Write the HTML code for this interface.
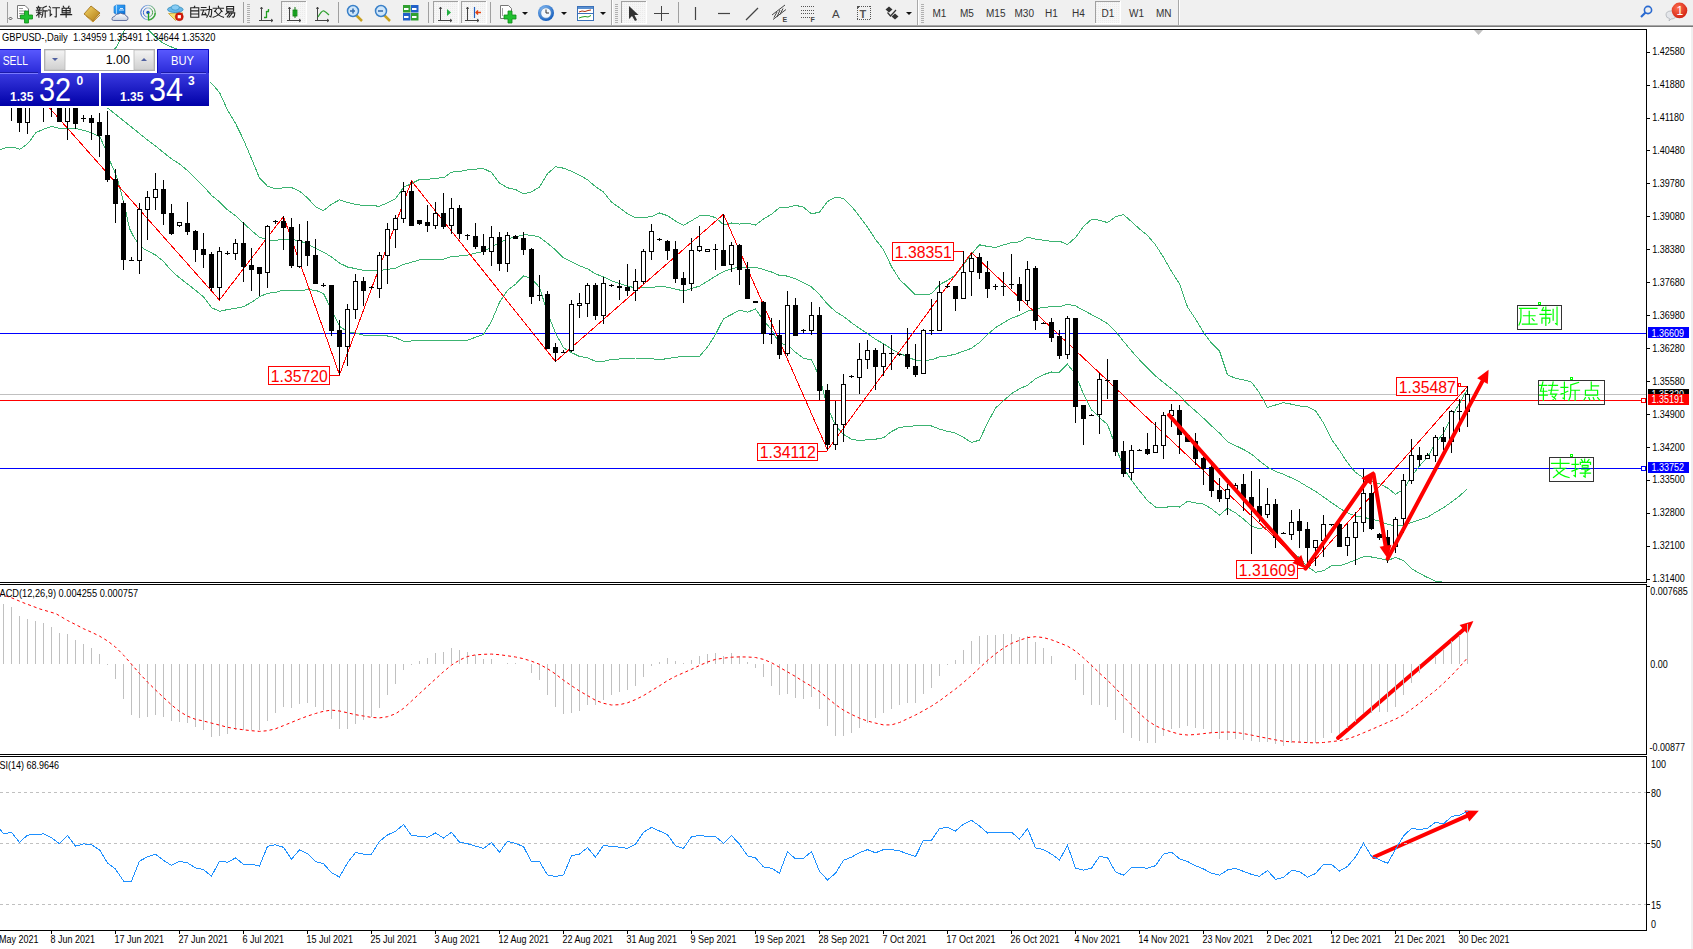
<!DOCTYPE html><html><head><meta charset="utf-8"><style>html,body{margin:0;padding:0;background:#fff;overflow:hidden}svg{display:block}</style></head><body>
<svg width="1693" height="949" viewBox="0 0 1693 949">
<defs><clipPath id="clipMain"><rect x="0" y="30" width="1646" height="552"/></clipPath><clipPath id="clipMacd"><rect x="0" y="585" width="1646" height="169"/></clipPath></defs>
<rect width="1693" height="949" fill="#fff"/>
<rect x="0" y="0" width="1693" height="25" fill="#f0f0f0"/>
<rect x="0" y="25" width="1693" height="1" fill="#a8a8a8"/>
<rect x="0" y="26" width="1693" height="1" fill="#787878"/>
<rect x="0" y="27" width="1693" height="2" fill="#fff"/>
<defs>
<linearGradient id="gGold" x1="0" y1="0" x2="1" y2="1"><stop offset="0" stop-color="#f5d66a"/><stop offset="1" stop-color="#b07a10"/></linearGradient>
<linearGradient id="gBlue" x1="0" y1="0" x2="0" y2="1"><stop offset="0" stop-color="#6ab0f5"/><stop offset="1" stop-color="#1060c0"/></linearGradient>
<radialGradient id="gClock" cx="0.4" cy="0.35" r="0.7"><stop offset="0" stop-color="#9fd0ff"/><stop offset="1" stop-color="#0a55b8"/></radialGradient>
<radialGradient id="gRed" cx="0.4" cy="0.35" r="0.7"><stop offset="0" stop-color="#ff7050"/><stop offset="1" stop-color="#d02010"/></radialGradient>
<pattern id="pDot" width="2" height="2" patternUnits="userSpaceOnUse"><rect width="2" height="2" fill="#f6f6f6"/><rect width="1" height="1" fill="#ebebeb"/></pattern>
</defs>
<g shape-rendering="crispEdges">
<rect x="7" y="2" width="1" height="21" fill="#a0a0a0"/>
<rect x="243" y="2" width="1" height="21" fill="#a0a0a0"/>
<rect x="338" y="2" width="1" height="21" fill="#a0a0a0"/>
<rect x="428" y="2" width="1" height="21" fill="#a0a0a0"/>
<rect x="490" y="2" width="1" height="21" fill="#a0a0a0"/>
<rect x="678" y="2" width="1" height="21" fill="#a0a0a0"/>
<rect x="611" y="0" width="1" height="25" fill="#a8a8a8"/><rect x="612" y="0" width="1" height="25" fill="#ffffff"/>
<rect x="917" y="0" width="1" height="25" fill="#a8a8a8"/><rect x="918" y="0" width="1" height="25" fill="#ffffff"/>
<rect x="1178" y="0" width="1" height="25" fill="#a8a8a8"/><rect x="1179" y="0" width="1" height="25" fill="#ffffff"/>
<rect x="247" y="4" width="3" height="1" fill="#b0b0b0"/>
<rect x="247" y="6" width="3" height="1" fill="#b0b0b0"/>
<rect x="247" y="8" width="3" height="1" fill="#b0b0b0"/>
<rect x="247" y="10" width="3" height="1" fill="#b0b0b0"/>
<rect x="247" y="12" width="3" height="1" fill="#b0b0b0"/>
<rect x="247" y="14" width="3" height="1" fill="#b0b0b0"/>
<rect x="247" y="16" width="3" height="1" fill="#b0b0b0"/>
<rect x="247" y="18" width="3" height="1" fill="#b0b0b0"/>
<rect x="247" y="20" width="3" height="1" fill="#b0b0b0"/>
<rect x="247" y="22" width="3" height="1" fill="#b0b0b0"/>
<rect x="615" y="4" width="3" height="1" fill="#b0b0b0"/>
<rect x="615" y="6" width="3" height="1" fill="#b0b0b0"/>
<rect x="615" y="8" width="3" height="1" fill="#b0b0b0"/>
<rect x="615" y="10" width="3" height="1" fill="#b0b0b0"/>
<rect x="615" y="12" width="3" height="1" fill="#b0b0b0"/>
<rect x="615" y="14" width="3" height="1" fill="#b0b0b0"/>
<rect x="615" y="16" width="3" height="1" fill="#b0b0b0"/>
<rect x="615" y="18" width="3" height="1" fill="#b0b0b0"/>
<rect x="615" y="20" width="3" height="1" fill="#b0b0b0"/>
<rect x="615" y="22" width="3" height="1" fill="#b0b0b0"/>
<rect x="921" y="4" width="3" height="1" fill="#b0b0b0"/>
<rect x="921" y="6" width="3" height="1" fill="#b0b0b0"/>
<rect x="921" y="8" width="3" height="1" fill="#b0b0b0"/>
<rect x="921" y="10" width="3" height="1" fill="#b0b0b0"/>
<rect x="921" y="12" width="3" height="1" fill="#b0b0b0"/>
<rect x="921" y="14" width="3" height="1" fill="#b0b0b0"/>
<rect x="921" y="16" width="3" height="1" fill="#b0b0b0"/>
<rect x="921" y="18" width="3" height="1" fill="#b0b0b0"/>
<rect x="921" y="20" width="3" height="1" fill="#b0b0b0"/>
<rect x="921" y="22" width="3" height="1" fill="#b0b0b0"/>
<rect x="281" y="1" width="25" height="22" fill="url(#pDot)"/>
<rect x="281" y="1" width="25" height="1" fill="#a0a0a0"/><rect x="281" y="1" width="1" height="22" fill="#a0a0a0"/>
<rect x="281" y="23" width="26" height="1" fill="#fff"/><rect x="306" y="1" width="1" height="23" fill="#fff"/>
<rect x="433" y="1" width="25" height="22" fill="url(#pDot)"/>
<rect x="433" y="1" width="25" height="1" fill="#a0a0a0"/><rect x="433" y="1" width="1" height="22" fill="#a0a0a0"/>
<rect x="433" y="23" width="26" height="1" fill="#fff"/><rect x="458" y="1" width="1" height="23" fill="#fff"/>
<rect x="461" y="1" width="25" height="22" fill="url(#pDot)"/>
<rect x="461" y="1" width="25" height="1" fill="#a0a0a0"/><rect x="461" y="1" width="1" height="22" fill="#a0a0a0"/>
<rect x="461" y="23" width="26" height="1" fill="#fff"/><rect x="486" y="1" width="1" height="23" fill="#fff"/>
<rect x="621" y="1" width="25" height="22" fill="url(#pDot)"/>
<rect x="621" y="1" width="25" height="1" fill="#a0a0a0"/><rect x="621" y="1" width="1" height="22" fill="#a0a0a0"/>
<rect x="621" y="23" width="26" height="1" fill="#fff"/><rect x="646" y="1" width="1" height="23" fill="#fff"/>
<rect x="1095" y="1" width="25" height="22" fill="url(#pDot)"/>
<rect x="1095" y="1" width="25" height="1" fill="#a0a0a0"/><rect x="1095" y="1" width="1" height="22" fill="#a0a0a0"/>
<rect x="1095" y="23" width="26" height="1" fill="#fff"/><rect x="1120" y="1" width="1" height="23" fill="#fff"/>
</g>
<path d="M10.5,17 L12,18.5 L10.5,20 L9,18.5Z" fill="none" stroke="#222" stroke-width="0.8"/>
<path d="M17.5,5.5 H25 L28.5,9 V18.5 H17.5Z" fill="#fff" stroke="#777" stroke-width="1"/>
<path d="M19,8.5H23 M19,11H26 M19,13.5H25 M19,16H22" stroke="#999" stroke-width="1"/>
<path d="M24.5,11 H28.5 V15 H32.5 V19 H28.5 V23 H24.5 V19 H20.5 V15 H24.5Z" fill="#20c030" stroke="#108a18" stroke-width="0.8"/>
<path transform="translate(36.00,6.00) scale(0.575)" d="M4,0.5L5,2 M1,3H9 M2.5,4L3.5,6.5 M7,4L6,6.5 M0.5,7.5H9.5 M1,11H9 M5,7.5V19.5 M5,12L1,17 M5,12L9,15 M18,0.5L12,3 M12,3V10Q12,16 10,19.5 M12,8.5H19.5 M16,8.5V19.5" fill="none" stroke="#222" stroke-width="1.91" stroke-linecap="square"/>
<path transform="translate(48.20,6.00) scale(0.575)" d="M2,1L4,3.5 M0.5,7H3.5V17L6,14.5 M8,3H19.5 M14,3V18.5Q14,19.5 12,18.5" fill="none" stroke="#222" stroke-width="1.91" stroke-linecap="square"/>
<path transform="translate(60.40,6.00) scale(0.575)" d="M5,0.5L6.5,3 M15,0.5L13.5,3 M3,4H17V12H3Z M3,8H17 M10,4V19.5 M0.5,15H19.5" fill="none" stroke="#222" stroke-width="1.91" stroke-linecap="square"/>
<path d="M84,14 L91,6 L100,13 L93,21Z" fill="url(#gGold)" stroke="#9a6a10" stroke-width="0.8"/>
<path d="M86,16 L93,22 L100,15" fill="none" stroke="#c89530" stroke-width="1"/>
<defs><linearGradient id="gCube" x1="0" y1="0" x2="1" y2="1"><stop offset="0" stop-color="#40b0ff"/><stop offset="1" stop-color="#0a70d8"/></linearGradient><linearGradient id="gCloud" x1="0" y1="0" x2="0" y2="1"><stop offset="0" stop-color="#ffffff"/><stop offset="1" stop-color="#c8d0e0"/></linearGradient><linearGradient id="gRing" x1="0" y1="0" x2="1" y2="0"><stop offset="0" stop-color="#2a60d0"/><stop offset="0.5" stop-color="#a0c0e0"/><stop offset="1" stop-color="#40a040"/></linearGradient></defs>
<path d="M114,6.5 L116.5,5 H125 V14 H116 L114,13Z" fill="url(#gCube)" stroke="#1a70c8" stroke-width="0.6"/>
<path d="M116.5,5 V14" stroke="#c0e4ff" stroke-width="0.8"/><path d="M119,10 H124 M120,8.5 H123" stroke="#e8f4ff" stroke-width="0.9"/>
<path d="M113.5,20.5 Q111.5,20.5 112,18.5 Q112.5,16.5 114.5,16.5 Q115.5,13.5 118.5,14 Q120.5,12.3 123,14 Q125.5,13.5 126,16 Q128.5,16.3 128,19 Q127.5,20.5 126,20.5Z" fill="url(#gCloud)" stroke="#4a5a90" stroke-width="0.8"/>
<circle cx="148" cy="12.5" r="7.2" fill="none" stroke="url(#gRing)" stroke-width="1"/>
<circle cx="148" cy="12.5" r="4.6" fill="none" stroke="url(#gRing)" stroke-width="1"/>
<circle cx="148" cy="12.5" r="1.7" fill="#1a50c0"/>
<path d="M148.5,13 V20.5" stroke="#20a020" stroke-width="1.3"/><path d="M148.5,20 A7.3,7.3 0 0 0 155.3,13" fill="none" stroke="#40a840" stroke-width="1.4"/>
<path d="M168.5,13.5 L175.5,20.5 L183,13Z" fill="#f4e070" stroke="#c8a030" stroke-width="0.8"/>
<ellipse cx="175.3" cy="9.5" rx="7.8" ry="3" fill="#6ab8e8" stroke="#2a88b8" stroke-width="0.8"/>
<ellipse cx="175.3" cy="7.5" rx="4" ry="2.7" fill="#88ccf4" stroke="#2a88b8" stroke-width="0.6"/>
<circle cx="179.3" cy="16.7" r="4" fill="#d81808" stroke="#a01000" stroke-width="0.5"/><rect x="177.7" y="15.1" width="3.2" height="3.2" fill="#fff"/>
<path transform="translate(189.00,6.00) scale(0.575)" d="M10,0.5L8.5,3 M3,3H17V19.5H3Z M3,8.5H17 M3,14H17" fill="none" stroke="#222" stroke-width="1.91" stroke-linecap="square"/>
<path transform="translate(200.80,6.00) scale(0.575)" d="M1,2.5H9 M0,7H10 M5,7L2,15.5L9,14.5 M7.5,12L9.5,16 M11,6H19Q19,14 17.5,19L15.5,18 M15,0.5V6Q14.5,15 10.5,19.5" fill="none" stroke="#222" stroke-width="1.91" stroke-linecap="square"/>
<path transform="translate(212.60,6.00) scale(0.575)" d="M10,0.5L11,3 M1,4H19 M6.5,6L3.5,9.5 M13.5,6L16.5,9.5 M5,9.5Q10,17 19,19.5 M15,9.5Q10,17 1,19.5" fill="none" stroke="#222" stroke-width="1.91" stroke-linecap="square"/>
<path transform="translate(224.40,6.00) scale(0.575)" d="M4,1H16V9H4Z M4,5H16 M6.5,10L2,14.5 M5,12H18Q18,17 16,19.5L14,19 M10,12L5,19 M14,12L8,19.5" fill="none" stroke="#222" stroke-width="1.91" stroke-linecap="square"/>
<path d="M261.5,7 V21 M259,20.5 H273 M261.5,7 L260.5,9 M261.5,7 L262.5,9 M273,20.5 L271,19 M273,20.5 L271,22" fill="none" stroke="#444" stroke-width="1"/>
<path d="M266.5,11 V18 M264,17.5 H266.5 M266.5,11.5 H269 M268.5,9 V11.5" fill="none" stroke="#20a020" stroke-width="1.3"/>
<path d="M289.5,7 V21 M287,20.5 H301 M289.5,7 L288.5,9 M289.5,7 L290.5,9 M301,20.5 L299,19 M301,20.5 L299,22" fill="none" stroke="#444" stroke-width="1"/>
<rect x="293" y="10" width="4" height="6" fill="#20c030" stroke="#107a10" stroke-width="0.8"/><path d="M295,7 V18" stroke="#107a10" stroke-width="1"/>
<path d="M317.5,7 V21 M315,20.5 H329 M317.5,7 L316.5,9 M317.5,7 L318.5,9 M329,20.5 L327,19 M329,20.5 L327,22" fill="none" stroke="#444" stroke-width="1"/>
<path d="M318,17 Q322,10 324,11 Q326,12 329,15" fill="none" stroke="#30a030" stroke-width="1.2"/>
<line x1="356" y1="15" x2="362" y2="21" stroke="#c8a020" stroke-width="2.5"/>
<circle cx="353" cy="11" r="5.5" fill="#cfe6fa" stroke="#3a80c8" stroke-width="1.5"/>
<path d="M350,11 H355" stroke="#3a70b0" stroke-width="1.6"/>
<path d="M353,8.5 V13.5" stroke="#3a70b0" stroke-width="1.6"/>
<line x1="384" y1="15" x2="390" y2="21" stroke="#c8a020" stroke-width="2.5"/>
<circle cx="381" cy="11" r="5.5" fill="#cfe6fa" stroke="#3a80c8" stroke-width="1.5"/>
<path d="M378,11 H383" stroke="#3a70b0" stroke-width="1.6"/>
<rect x="403" y="5" width="7.5" height="7.5" fill="#30a030"/>
<rect x="404" y="8" width="4.5" height="2" fill="#fff"/>
<rect x="411" y="5" width="7.5" height="7.5" fill="#2060c8"/>
<rect x="412" y="8" width="4.5" height="2" fill="#fff"/>
<rect x="403" y="13" width="7.5" height="7.5" fill="#2060c8"/>
<rect x="404" y="16" width="4.5" height="2" fill="#fff"/>
<rect x="411" y="13" width="7.5" height="7.5" fill="#30a030"/>
<rect x="412" y="16" width="4.5" height="2" fill="#fff"/>
<path d="M440.5,7 V21 M438,20.5 H452 M440.5,7 L439.5,9 M440.5,7 L441.5,9 M452,20.5 L450,19 M452,20.5 L450,22" fill="none" stroke="#444" stroke-width="1"/>
<path d="M447,9 L451,12.5 L447,16Z" fill="#20b040"/>
<path d="M467.5,7 V21 M465,20.5 H479 M467.5,7 L466.5,9 M467.5,7 L468.5,9 M479,20.5 L477,19 M479,20.5 L477,22" fill="none" stroke="#444" stroke-width="1"/>
<path d="M474.5,7 V18" stroke="#2060c0" stroke-width="1.2"/><path d="M481,12.5 H476 M478,10.5 L476,12.5 L478,14.5" fill="none" stroke="#e04010" stroke-width="1.3"/>
<path d="M500.5,5.5 H508.5 L511.5,8.5 V18.5 H500.5Z" fill="#fff" stroke="#777" stroke-width="1"/>
<path d="M502.5,8 V16" stroke="#888" stroke-width="0.8"/>
<path d="M508,11 H512 V15 H516 V19 H512 V23 H508 V19 H504 V15 H508Z" fill="#20c030" stroke="#108a18" stroke-width="0.8"/>
<path d="M522,12 H528 L525,15Z" fill="#111"/>
<path d="M561,12 H567 L564,15Z" fill="#111"/>
<path d="M600,12 H606 L603,15Z" fill="#111"/>
<circle cx="546" cy="13" r="8" fill="url(#gClock)"/><circle cx="546" cy="13" r="5.2" fill="#f4f8fc" stroke="#3a70b0" stroke-width="0.5"/><path d="M546,9.5 V13 H549" fill="none" stroke="#333" stroke-width="1"/>
<rect x="577.5" y="6.5" width="16" height="14" fill="#fff" stroke="#3a70b8" stroke-width="1"/><rect x="578" y="7" width="15" height="2" fill="#5a90d0"/><path d="M578,13.5 H593" stroke="#3a70b8" stroke-width="1"/>
<path d="M579,12 L582,11 L585,11.5 L588,10.5 L591,10" fill="none" stroke="#b03010" stroke-width="1"/><path d="M579,18 L582,17 L585,16.5 L588,17 L591,15.5" fill="none" stroke="#20a020" stroke-width="1"/>
<path d="M629,6 L629,19 L632,16 L635,21 L637,20 L634.5,15 L638.5,15Z" fill="#333"/>
<path d="M661.5,6 V21 M654,13.5 H669" stroke="#444" stroke-width="1"/>
<path d="M695.5,7 V20" stroke="#444" stroke-width="1.2"/>
<path d="M718,13.5 H730" stroke="#444" stroke-width="1.2"/>
<path d="M746,20 L758,8" stroke="#444" stroke-width="1.2"/>
<path d="M772,15 L785,5 M773,19.5 L786,9.5 M774,17.5 L777,12 M777,17 L780,10 M780,14.5 L783,8.5" stroke="#444" stroke-width="1"/><text x="782.5" y="22" font-family='"Liberation Sans", sans-serif' font-size="7" font-weight="bold" fill="#444">E</text>
<g shape-rendering="crispEdges" fill="#555">
<rect x="801" y="6" width="1" height="1"/>
<rect x="803" y="6" width="1" height="1"/>
<rect x="805" y="6" width="1" height="1"/>
<rect x="807" y="6" width="1" height="1"/>
<rect x="809" y="6" width="1" height="1"/>
<rect x="811" y="6" width="1" height="1"/>
<rect x="813" y="6" width="1" height="1"/>
<rect x="801" y="10" width="1" height="1"/>
<rect x="803" y="10" width="1" height="1"/>
<rect x="805" y="10" width="1" height="1"/>
<rect x="807" y="10" width="1" height="1"/>
<rect x="809" y="10" width="1" height="1"/>
<rect x="811" y="10" width="1" height="1"/>
<rect x="813" y="10" width="1" height="1"/>
<rect x="801" y="13" width="1" height="1"/>
<rect x="803" y="13" width="1" height="1"/>
<rect x="805" y="13" width="1" height="1"/>
<rect x="807" y="13" width="1" height="1"/>
<rect x="809" y="13" width="1" height="1"/>
<rect x="811" y="13" width="1" height="1"/>
<rect x="813" y="13" width="1" height="1"/>
<rect x="801" y="17" width="1" height="1"/>
<rect x="803" y="17" width="1" height="1"/>
<rect x="805" y="17" width="1" height="1"/>
<rect x="807" y="17" width="1" height="1"/>
<rect x="809" y="17" width="1" height="1"/>
</g>
<text x="810.5" y="22" font-family='"Liberation Sans", sans-serif' font-size="7" font-weight="bold" fill="#444">F</text>
<text x="832" y="17.8" font-family='"Liberation Sans", sans-serif' font-size="11.5" fill="#444">A</text>
<g shape-rendering="crispEdges" fill="#555">
<rect x="857" y="6" width="1" height="1"/><rect x="857" y="19" width="1" height="1"/>
<rect x="859" y="6" width="1" height="1"/><rect x="859" y="19" width="1" height="1"/>
<rect x="861" y="6" width="1" height="1"/><rect x="861" y="19" width="1" height="1"/>
<rect x="863" y="6" width="1" height="1"/><rect x="863" y="19" width="1" height="1"/>
<rect x="865" y="6" width="1" height="1"/><rect x="865" y="19" width="1" height="1"/>
<rect x="867" y="6" width="1" height="1"/><rect x="867" y="19" width="1" height="1"/>
<rect x="869" y="6" width="1" height="1"/><rect x="869" y="19" width="1" height="1"/>
<rect x="857" y="6" width="1" height="1"/><rect x="870" y="6" width="1" height="1"/>
<rect x="857" y="8" width="1" height="1"/><rect x="870" y="8" width="1" height="1"/>
<rect x="857" y="10" width="1" height="1"/><rect x="870" y="10" width="1" height="1"/>
<rect x="857" y="12" width="1" height="1"/><rect x="870" y="12" width="1" height="1"/>
<rect x="857" y="14" width="1" height="1"/><rect x="870" y="14" width="1" height="1"/>
<rect x="857" y="16" width="1" height="1"/><rect x="870" y="16" width="1" height="1"/>
<rect x="857" y="18" width="1" height="1"/><rect x="870" y="18" width="1" height="1"/>
<rect x="857" y="6" width="2" height="2"/>
</g>
<text x="859.5" y="17.5" font-family='"Liberation Sans", sans-serif' font-size="11" font-weight="bold" fill="#555">T</text>
<path d="M885.5,9.5 L889,6.5 L892.5,9.5 L889,12.5Z M891.5,16.5 L895,13.5 L898.5,16.5 L895,19.5Z" fill="#333"/><path d="M887.5,12.5 L890.5,16 L896,10" fill="none" stroke="#333" stroke-width="1.2"/>
<path d="M906,12 H912 L909,15Z" fill="#111"/>
<g font-family='"Liberation Sans", sans-serif' font-size="10" fill="#333">
<text x="932.5" y="17.3">M1</text>
<text x="960.0" y="17.3">M5</text>
<text x="986.0" y="17.3">M15</text>
<text x="1014.5" y="17.3">M30</text>
<text x="1045.0" y="17.3">H1</text>
<text x="1072.0" y="17.3">H4</text>
<text x="1101.5" y="17.3">D1</text>
<text x="1129.0" y="17.3">W1</text>
<text x="1156.0" y="17.3">MN</text>
</g>
<circle cx="1648" cy="10" r="3.6" fill="none" stroke="#2a6ad0" stroke-width="1.6"/><path d="M1645.5,12.5 L1641,17" stroke="#2a6ad0" stroke-width="2.2"/>
<path d="M1666,15 Q1666,11 1671,11 Q1676,11 1676,15 Q1676,19 1671,19 L1669,21 L1669.5,18.5 Q1666,18 1666,15Z" fill="#e4e6ea" stroke="#b0b4ba" stroke-width="0.8"/>
<circle cx="1679.5" cy="10.4" r="7.8" fill="url(#gRed)"/><text x="1676.5" y="15" font-family='"Liberation Sans", sans-serif' font-size="12" fill="#fff">1</text>
<g clip-path="url(#clipMain)">
<rect x="0" y="394" width="1646" height="1" fill="#c0c0c0"/>
<rect x="0" y="400" width="1646" height="1" fill="#ff0000"/>
<rect x="0" y="333" width="1646" height="1" fill="#0000ff"/>
<rect x="0" y="468" width="1646" height="1" fill="#0000ff"/>
<polyline fill="none" stroke="#3cb371" stroke-width="1" shape-rendering="crispEdges" points="100.5,65.0 116.5,47.0 124.5,30.0 136.5,18.0 148.5,30.0 155.5,37.1 163.5,43.5 171.5,47.0 179.5,50.0 187.5,56.9 195.5,67.3 203.5,75.7 211.5,83.2 219.5,92.5 227.5,110.0 235.5,123.3 243.5,139.7 251.5,158.6 259.5,178.0 267.5,186.2 275.5,189.0 283.5,187.8 291.5,187.6 299.5,191.1 307.5,197.9 315.5,206.7 323.5,210.6 331.5,204.2 339.5,199.9 347.5,202.5 355.5,204.3 363.5,205.7 371.5,205.7 379.5,206.2 387.5,202.8 395.5,198.8 403.5,187.4 411.5,183.5 419.5,179.5 427.5,179.4 435.5,178.1 443.5,177.9 451.5,172.1 459.5,171.4 467.5,170.0 475.5,169.1 483.5,168.7 491.5,172.3 499.5,183.1 507.5,187.8 515.5,189.5 523.5,193.8 531.5,191.8 539.5,187.1 547.5,173.7 555.5,166.7 563.5,168.2 571.5,171.2 579.5,175.2 587.5,179.8 595.5,186.6 603.5,192.1 611.5,202.1 619.5,207.8 627.5,213.7 635.5,217.7 643.5,217.7 651.5,216.5 659.5,213.0 667.5,215.7 675.5,221.1 683.5,225.3 691.5,220.7 699.5,215.9 707.5,215.3 715.5,217.6 723.5,224.7 731.5,223.0 739.5,224.1 747.5,223.3 755.5,225.1 763.5,218.9 771.5,214.3 779.5,207.5 787.5,207.3 795.5,205.3 803.5,207.2 811.5,213.9 819.5,212.1 827.5,201.5 835.5,197.1 843.5,198.5 851.5,206.2 859.5,216.3 867.5,227.1 875.5,239.4 883.5,249.6 891.5,266.6 899.5,279.3 907.5,287.1 915.5,294.9 923.5,294.4 931.5,293.9 939.5,284.6 947.5,280.5 955.5,275.0 963.5,265.0 971.5,254.1 979.5,244.8 987.5,246.4 995.5,247.4 1003.5,244.9 1011.5,242.7 1019.5,241.9 1027.5,237.1 1035.5,239.1 1043.5,240.2 1051.5,241.3 1059.5,241.2 1067.5,244.5 1075.5,237.5 1083.5,226.5 1091.5,219.3 1099.5,220.2 1107.5,222.6 1115.5,216.8 1123.5,214.5 1131.5,221.7 1139.5,228.9 1147.5,235.4 1155.5,244.9 1163.5,257.2 1171.5,271.4 1179.5,283.8 1187.5,306.9 1195.5,319.0 1203.5,332.4 1211.5,343.0 1219.5,351.0 1227.5,374.9 1235.5,378.3 1243.5,379.8 1251.5,382.1 1259.5,392.9 1267.5,407.6 1275.5,405.0 1283.5,402.7 1291.5,404.2 1299.5,406.0 1307.5,406.8 1315.5,410.6 1323.5,423.0 1331.5,439.3 1339.5,450.5 1347.5,462.7 1355.5,472.4 1363.5,477.9 1371.5,481.5 1379.5,483.8 1387.5,488.0 1395.5,494.2 1403.5,489.6 1411.5,476.3 1419.5,466.0 1427.5,457.0 1435.5,443.4 1443.5,433.1 1451.5,416.9 1459.5,403.4 1467.5,389.0"/>
<polyline fill="none" stroke="#3cb371" stroke-width="1" shape-rendering="crispEdges" points="0.5,95.0 50.5,90.0 80.5,95.0 102.5,104.0 107.9,108.2 129.4,125.4 147.5,140.0 155.5,146.0 163.5,152.5 171.5,158.9 179.5,163.9 187.5,170.5 195.5,178.7 203.5,186.2 211.5,195.4 219.5,201.9 227.5,209.8 235.5,215.8 243.5,223.2 251.5,230.5 259.5,237.4 267.5,239.7 275.5,240.6 283.5,239.0 291.5,239.3 299.5,240.9 307.5,243.8 315.5,248.5 323.5,252.1 331.5,256.9 339.5,263.1 347.5,267.0 355.5,268.6 363.5,270.4 371.5,270.4 379.5,270.6 387.5,269.4 395.5,268.2 403.5,264.4 411.5,262.3 419.5,259.8 427.5,259.7 435.5,259.3 443.5,259.3 451.5,256.4 459.5,256.0 467.5,255.1 475.5,253.2 483.5,251.5 491.5,246.9 499.5,242.7 507.5,239.0 515.5,236.9 523.5,234.8 531.5,235.2 539.5,237.2 547.5,243.2 555.5,249.9 563.5,257.9 571.5,261.9 579.5,265.8 587.5,268.8 595.5,273.9 603.5,276.8 611.5,280.7 619.5,283.4 627.5,286.1 635.5,287.9 643.5,287.9 651.5,287.6 659.5,286.4 667.5,287.2 675.5,289.1 683.5,290.9 691.5,288.6 699.5,286.1 707.5,281.2 715.5,276.1 723.5,271.7 731.5,268.8 739.5,267.1 747.5,267.7 755.5,267.1 763.5,269.6 771.5,272.0 779.5,275.4 787.5,276.1 795.5,278.8 803.5,282.8 811.5,286.9 819.5,294.5 827.5,304.2 835.5,311.5 843.5,316.4 851.5,322.7 859.5,328.4 867.5,333.5 875.5,339.3 883.5,343.7 891.5,349.1 899.5,353.3 907.5,356.8 915.5,360.3 923.5,360.2 931.5,359.9 939.5,356.9 947.5,355.9 955.5,354.1 963.5,351.2 971.5,348.3 979.5,342.4 987.5,334.6 995.5,327.7 1003.5,322.8 1011.5,318.2 1019.5,315.3 1027.5,311.2 1035.5,309.0 1043.5,307.4 1051.5,306.7 1059.5,306.7 1067.5,304.3 1075.5,305.9 1083.5,310.3 1091.5,314.6 1099.5,318.9 1107.5,323.6 1115.5,331.2 1123.5,341.3 1131.5,350.9 1139.5,359.8 1147.5,368.0 1155.5,376.0 1163.5,382.5 1171.5,388.8 1179.5,395.4 1187.5,404.1 1195.5,411.0 1203.5,418.2 1211.5,425.9 1219.5,433.1 1227.5,441.6 1235.5,445.6 1243.5,449.5 1251.5,454.1 1259.5,460.9 1267.5,467.1 1275.5,471.3 1283.5,474.3 1291.5,477.9 1299.5,481.9 1307.5,486.7 1315.5,491.4 1323.5,496.9 1331.5,502.6 1339.5,508.2 1347.5,512.9 1355.5,516.1 1363.5,517.3 1371.5,519.2 1379.5,521.2 1387.5,524.2 1395.5,525.9 1403.5,525.0 1411.5,522.4 1419.5,519.7 1427.5,517.2 1435.5,512.3 1443.5,507.7 1451.5,502.1 1459.5,496.1 1467.5,488.5"/>
<polyline fill="none" stroke="#3cb371" stroke-width="1" shape-rendering="crispEdges" points="0.5,149.5 7.5,147.3 14.1,147.3 19.4,149.3 22.9,147.3 28.9,142.5 35.9,132.5 43.0,129.5 51.9,126.3 59.0,128.4 76.1,128.4 89.1,131.9 95.5,134.6 99.9,136.8 105.1,148.6 110.3,161.9 116.2,175.2 121.3,193.0 125.0,207.7 129.5,228.4 133.9,237.2 138.3,243.2 144.2,249.1 155.5,255.0 163.5,261.4 171.5,270.8 179.5,277.8 187.5,284.0 195.5,290.2 203.5,296.8 211.5,307.6 219.5,311.3 227.5,309.6 235.5,308.3 243.5,306.7 251.5,302.3 259.5,296.8 267.5,293.3 275.5,292.3 283.5,290.2 291.5,291.0 299.5,290.7 307.5,289.7 315.5,290.2 323.5,293.5 331.5,309.7 339.5,326.4 347.5,331.6 355.5,332.9 363.5,335.1 371.5,335.1 379.5,335.1 387.5,336.0 395.5,337.5 403.5,341.4 411.5,341.0 419.5,340.1 427.5,340.1 435.5,340.6 443.5,340.6 451.5,340.7 459.5,340.6 467.5,340.1 475.5,337.3 483.5,334.3 491.5,321.4 499.5,302.3 507.5,290.2 515.5,284.3 523.5,275.8 531.5,278.6 539.5,287.4 547.5,312.7 555.5,333.1 563.5,347.7 571.5,352.6 579.5,356.5 587.5,357.8 595.5,361.3 603.5,361.5 611.5,359.3 619.5,359.0 627.5,358.5 635.5,358.0 643.5,358.0 651.5,358.6 659.5,359.7 667.5,358.6 675.5,357.2 683.5,356.6 691.5,356.5 699.5,356.4 707.5,347.1 715.5,334.5 723.5,318.7 731.5,314.5 739.5,310.1 747.5,312.2 755.5,309.0 763.5,320.3 771.5,329.8 779.5,343.3 787.5,345.0 795.5,352.3 803.5,358.3 811.5,359.9 819.5,376.9 827.5,406.8 835.5,425.8 843.5,434.3 851.5,439.3 859.5,440.5 867.5,439.8 875.5,439.2 883.5,437.7 891.5,431.6 899.5,427.4 907.5,426.4 915.5,425.8 923.5,425.9 931.5,426.0 939.5,429.1 947.5,431.3 955.5,433.1 963.5,437.4 971.5,442.5 979.5,440.1 987.5,422.9 995.5,408.1 1003.5,400.7 1011.5,393.7 1019.5,388.7 1027.5,385.3 1035.5,378.8 1043.5,374.7 1051.5,372.0 1059.5,372.2 1067.5,364.1 1075.5,374.4 1083.5,394.2 1091.5,409.8 1099.5,417.6 1107.5,424.5 1115.5,445.7 1123.5,468.1 1131.5,480.2 1139.5,490.7 1147.5,500.6 1155.5,507.1 1163.5,507.8 1171.5,506.2 1179.5,507.1 1187.5,501.2 1195.5,502.9 1203.5,504.1 1211.5,508.8 1219.5,515.1 1227.5,508.3 1235.5,512.8 1243.5,519.1 1251.5,526.1 1259.5,528.8 1267.5,526.5 1275.5,537.6 1283.5,545.9 1291.5,551.5 1299.5,557.9 1307.5,566.5 1315.5,572.2 1323.5,570.8 1331.5,565.8 1339.5,565.8 1347.5,563.2 1355.5,559.8 1363.5,556.8 1371.5,557.0 1379.5,558.5 1387.5,560.4 1395.5,557.6 1403.5,560.4 1411.5,568.6 1419.5,573.4 1427.5,577.5 1435.5,581.1 1443.5,582.3 1451.5,587.3 1459.5,588.9 1467.5,588.0"/>
<polyline fill="none" stroke="#ff0000" stroke-width="1" shape-rendering="crispEdges" points="-19.5,30.0 219.5,300.0 283.5,216.5 339.5,374.7 411.5,181.0 555.5,361.5 723.5,214.3 827.5,450.0 971.5,252.8 1307.5,568.3 1467.5,386.4"/>
<g shape-rendering="crispEdges">
<rect x="3" y="80" width="1" height="24" fill="#000"/>
<rect x="1" y="85" width="5" height="16" fill="#000"/>
<rect x="2" y="86" width="3" height="14" fill="#fff"/>
<rect x="11" y="88" width="1" height="33" fill="#000"/>
<rect x="9" y="90" width="5" height="15" fill="#000"/>
<rect x="19" y="90" width="1" height="42" fill="#000"/>
<rect x="17" y="95" width="5" height="28" fill="#000"/>
<rect x="27" y="95" width="1" height="39" fill="#000"/>
<rect x="25" y="100" width="5" height="23" fill="#000"/>
<rect x="26" y="101" width="3" height="21" fill="#fff"/>
<rect x="35" y="80" width="1" height="24" fill="#000"/>
<rect x="33" y="85" width="5" height="16" fill="#000"/>
<rect x="34" y="86" width="3" height="14" fill="#fff"/>
<rect x="43" y="88" width="1" height="34" fill="#000"/>
<rect x="41" y="90" width="5" height="15" fill="#000"/>
<rect x="51" y="90" width="1" height="27" fill="#000"/>
<rect x="49" y="95" width="5" height="10" fill="#000"/>
<rect x="59" y="90" width="1" height="32" fill="#000"/>
<rect x="57" y="95" width="5" height="27" fill="#000"/>
<rect x="67" y="90" width="1" height="50" fill="#000"/>
<rect x="65" y="95" width="5" height="27" fill="#000"/>
<rect x="66" y="96" width="3" height="25" fill="#fff"/>
<rect x="75" y="90" width="1" height="39" fill="#000"/>
<rect x="73" y="95" width="5" height="29" fill="#000"/>
<rect x="83" y="115" width="1" height="7" fill="#000"/>
<rect x="81" y="118" width="5" height="1" fill="#000"/>
<rect x="91" y="115" width="1" height="25" fill="#000"/>
<rect x="89" y="118" width="5" height="5" fill="#000"/>
<rect x="99" y="113" width="1" height="44" fill="#000"/>
<rect x="97" y="122" width="5" height="14" fill="#000"/>
<rect x="107" y="111" width="1" height="71" fill="#000"/>
<rect x="105" y="135" width="5" height="45" fill="#000"/>
<rect x="115" y="169" width="1" height="54" fill="#000"/>
<rect x="113" y="179" width="5" height="25" fill="#000"/>
<rect x="123" y="201" width="1" height="69" fill="#000"/>
<rect x="121" y="203" width="5" height="57" fill="#000"/>
<rect x="131" y="257" width="1" height="4" fill="#000"/>
<rect x="129" y="260" width="5" height="1" fill="#000"/>
<rect x="139" y="203" width="1" height="71" fill="#000"/>
<rect x="137" y="209" width="5" height="52" fill="#000"/>
<rect x="138" y="210" width="3" height="50" fill="#fff"/>
<rect x="147" y="191" width="1" height="49" fill="#000"/>
<rect x="145" y="197" width="5" height="13" fill="#000"/>
<rect x="146" y="198" width="3" height="11" fill="#fff"/>
<rect x="155" y="173" width="1" height="37" fill="#000"/>
<rect x="153" y="189" width="5" height="9" fill="#000"/>
<rect x="154" y="190" width="3" height="7" fill="#fff"/>
<rect x="163" y="180" width="1" height="45" fill="#000"/>
<rect x="161" y="189" width="5" height="25" fill="#000"/>
<rect x="171" y="204" width="1" height="31" fill="#000"/>
<rect x="169" y="213" width="5" height="21" fill="#000"/>
<rect x="179" y="222" width="1" height="5" fill="#000"/>
<rect x="177" y="222" width="5" height="4" fill="#000"/>
<rect x="178" y="223" width="3" height="2" fill="#fff"/>
<rect x="187" y="202" width="1" height="33" fill="#000"/>
<rect x="185" y="223" width="5" height="9" fill="#000"/>
<rect x="195" y="230" width="1" height="32" fill="#000"/>
<rect x="193" y="231" width="5" height="19" fill="#000"/>
<rect x="203" y="233" width="1" height="35" fill="#000"/>
<rect x="201" y="249" width="5" height="6" fill="#000"/>
<rect x="211" y="252" width="1" height="39" fill="#000"/>
<rect x="209" y="254" width="5" height="34" fill="#000"/>
<rect x="219" y="247" width="1" height="53" fill="#000"/>
<rect x="217" y="251" width="5" height="37" fill="#000"/>
<rect x="218" y="252" width="3" height="35" fill="#fff"/>
<rect x="227" y="251" width="1" height="4" fill="#000"/>
<rect x="225" y="253" width="5" height="1" fill="#000"/>
<rect x="235" y="239" width="1" height="21" fill="#000"/>
<rect x="233" y="243" width="5" height="11" fill="#000"/>
<rect x="234" y="244" width="3" height="9" fill="#fff"/>
<rect x="243" y="222" width="1" height="60" fill="#000"/>
<rect x="241" y="243" width="5" height="24" fill="#000"/>
<rect x="251" y="248" width="1" height="43" fill="#000"/>
<rect x="249" y="265" width="5" height="5" fill="#000"/>
<rect x="259" y="267" width="1" height="29" fill="#000"/>
<rect x="257" y="267" width="5" height="7" fill="#000"/>
<rect x="267" y="225" width="1" height="63" fill="#000"/>
<rect x="265" y="226" width="5" height="47" fill="#000"/>
<rect x="266" y="227" width="3" height="45" fill="#fff"/>
<rect x="275" y="220" width="1" height="4" fill="#000"/>
<rect x="273" y="221" width="5" height="1" fill="#000"/>
<rect x="283" y="216" width="1" height="34" fill="#000"/>
<rect x="281" y="221" width="5" height="7" fill="#000"/>
<rect x="291" y="218" width="1" height="50" fill="#000"/>
<rect x="289" y="227" width="5" height="39" fill="#000"/>
<rect x="299" y="224" width="1" height="44" fill="#000"/>
<rect x="297" y="240" width="5" height="27" fill="#000"/>
<rect x="298" y="241" width="3" height="25" fill="#fff"/>
<rect x="307" y="221" width="1" height="45" fill="#000"/>
<rect x="305" y="241" width="5" height="15" fill="#000"/>
<rect x="315" y="239" width="1" height="45" fill="#000"/>
<rect x="313" y="255" width="5" height="29" fill="#000"/>
<rect x="323" y="283" width="1" height="4" fill="#000"/>
<rect x="321" y="285" width="5" height="1" fill="#000"/>
<rect x="331" y="285" width="1" height="51" fill="#000"/>
<rect x="329" y="285" width="5" height="46" fill="#000"/>
<rect x="339" y="320" width="1" height="55" fill="#000"/>
<rect x="337" y="330" width="5" height="17" fill="#000"/>
<rect x="347" y="304" width="1" height="62" fill="#000"/>
<rect x="345" y="309" width="5" height="38" fill="#000"/>
<rect x="346" y="310" width="3" height="36" fill="#fff"/>
<rect x="355" y="274" width="1" height="45" fill="#000"/>
<rect x="353" y="281" width="5" height="29" fill="#000"/>
<rect x="354" y="282" width="3" height="27" fill="#fff"/>
<rect x="363" y="277" width="1" height="29" fill="#000"/>
<rect x="361" y="281" width="5" height="10" fill="#000"/>
<rect x="371" y="286" width="1" height="3" fill="#000"/>
<rect x="369" y="287" width="5" height="1" fill="#000"/>
<rect x="379" y="252" width="1" height="46" fill="#000"/>
<rect x="377" y="255" width="5" height="34" fill="#000"/>
<rect x="378" y="256" width="3" height="32" fill="#fff"/>
<rect x="387" y="223" width="1" height="61" fill="#000"/>
<rect x="385" y="229" width="5" height="27" fill="#000"/>
<rect x="386" y="230" width="3" height="25" fill="#fff"/>
<rect x="395" y="215" width="1" height="33" fill="#000"/>
<rect x="393" y="218" width="5" height="12" fill="#000"/>
<rect x="394" y="219" width="3" height="10" fill="#fff"/>
<rect x="403" y="182" width="1" height="41" fill="#000"/>
<rect x="401" y="191" width="5" height="28" fill="#000"/>
<rect x="402" y="192" width="3" height="26" fill="#fff"/>
<rect x="411" y="181" width="1" height="45" fill="#000"/>
<rect x="409" y="191" width="5" height="35" fill="#000"/>
<rect x="419" y="220" width="1" height="5" fill="#000"/>
<rect x="417" y="220" width="5" height="4" fill="#000"/>
<rect x="427" y="205" width="1" height="27" fill="#000"/>
<rect x="425" y="222" width="5" height="4" fill="#000"/>
<rect x="435" y="202" width="1" height="27" fill="#000"/>
<rect x="433" y="213" width="5" height="13" fill="#000"/>
<rect x="434" y="214" width="3" height="11" fill="#fff"/>
<rect x="443" y="193" width="1" height="36" fill="#000"/>
<rect x="441" y="213" width="5" height="14" fill="#000"/>
<rect x="451" y="198" width="1" height="36" fill="#000"/>
<rect x="449" y="208" width="5" height="18" fill="#000"/>
<rect x="450" y="209" width="3" height="16" fill="#fff"/>
<rect x="459" y="205" width="1" height="34" fill="#000"/>
<rect x="457" y="208" width="5" height="26" fill="#000"/>
<rect x="467" y="234" width="1" height="6" fill="#000"/>
<rect x="465" y="235" width="5" height="1" fill="#000"/>
<rect x="475" y="223" width="1" height="26" fill="#000"/>
<rect x="473" y="236" width="5" height="11" fill="#000"/>
<rect x="483" y="234" width="1" height="21" fill="#000"/>
<rect x="481" y="246" width="5" height="6" fill="#000"/>
<rect x="491" y="226" width="1" height="40" fill="#000"/>
<rect x="489" y="237" width="5" height="15" fill="#000"/>
<rect x="490" y="238" width="3" height="13" fill="#fff"/>
<rect x="499" y="232" width="1" height="39" fill="#000"/>
<rect x="497" y="237" width="5" height="27" fill="#000"/>
<rect x="507" y="232" width="1" height="40" fill="#000"/>
<rect x="505" y="235" width="5" height="29" fill="#000"/>
<rect x="506" y="236" width="3" height="27" fill="#fff"/>
<rect x="515" y="235" width="1" height="4" fill="#000"/>
<rect x="513" y="236" width="5" height="3" fill="#000"/>
<rect x="523" y="232" width="1" height="23" fill="#000"/>
<rect x="521" y="238" width="5" height="12" fill="#000"/>
<rect x="531" y="248" width="1" height="56" fill="#000"/>
<rect x="529" y="249" width="5" height="48" fill="#000"/>
<rect x="539" y="275" width="1" height="26" fill="#000"/>
<rect x="537" y="295" width="5" height="1" fill="#000"/>
<rect x="547" y="291" width="1" height="58" fill="#000"/>
<rect x="545" y="294" width="5" height="55" fill="#000"/>
<rect x="555" y="343" width="1" height="19" fill="#000"/>
<rect x="553" y="347" width="5" height="6" fill="#000"/>
<rect x="563" y="350" width="1" height="3" fill="#000"/>
<rect x="561" y="352" width="5" height="1" fill="#000"/>
<rect x="571" y="300" width="1" height="52" fill="#000"/>
<rect x="569" y="304" width="5" height="47" fill="#000"/>
<rect x="570" y="305" width="3" height="45" fill="#fff"/>
<rect x="579" y="293" width="1" height="25" fill="#000"/>
<rect x="577" y="303" width="5" height="3" fill="#000"/>
<rect x="578" y="304" width="3" height="1" fill="#fff"/>
<rect x="587" y="283" width="1" height="34" fill="#000"/>
<rect x="585" y="285" width="5" height="19" fill="#000"/>
<rect x="586" y="286" width="3" height="17" fill="#fff"/>
<rect x="595" y="283" width="1" height="37" fill="#000"/>
<rect x="593" y="285" width="5" height="31" fill="#000"/>
<rect x="603" y="277" width="1" height="47" fill="#000"/>
<rect x="601" y="283" width="5" height="33" fill="#000"/>
<rect x="602" y="284" width="3" height="31" fill="#fff"/>
<rect x="611" y="284" width="1" height="3" fill="#000"/>
<rect x="609" y="285" width="5" height="1" fill="#000"/>
<rect x="619" y="280" width="1" height="20" fill="#000"/>
<rect x="617" y="286" width="5" height="2" fill="#000"/>
<rect x="627" y="264" width="1" height="32" fill="#000"/>
<rect x="625" y="287" width="5" height="4" fill="#000"/>
<rect x="635" y="269" width="1" height="32" fill="#000"/>
<rect x="633" y="281" width="5" height="10" fill="#000"/>
<rect x="634" y="282" width="3" height="8" fill="#fff"/>
<rect x="643" y="249" width="1" height="35" fill="#000"/>
<rect x="641" y="251" width="5" height="31" fill="#000"/>
<rect x="642" y="252" width="3" height="29" fill="#fff"/>
<rect x="651" y="224" width="1" height="36" fill="#000"/>
<rect x="649" y="231" width="5" height="21" fill="#000"/>
<rect x="650" y="232" width="3" height="19" fill="#fff"/>
<rect x="659" y="238" width="1" height="3" fill="#000"/>
<rect x="657" y="239" width="5" height="1" fill="#000"/>
<rect x="667" y="240" width="1" height="20" fill="#000"/>
<rect x="665" y="241" width="5" height="10" fill="#000"/>
<rect x="675" y="241" width="1" height="42" fill="#000"/>
<rect x="673" y="249" width="5" height="30" fill="#000"/>
<rect x="683" y="272" width="1" height="31" fill="#000"/>
<rect x="681" y="278" width="5" height="7" fill="#000"/>
<rect x="691" y="238" width="1" height="53" fill="#000"/>
<rect x="689" y="250" width="5" height="34" fill="#000"/>
<rect x="690" y="251" width="3" height="32" fill="#fff"/>
<rect x="699" y="226" width="1" height="26" fill="#000"/>
<rect x="697" y="246" width="5" height="5" fill="#000"/>
<rect x="698" y="247" width="3" height="3" fill="#fff"/>
<rect x="707" y="249" width="1" height="3" fill="#000"/>
<rect x="705" y="249" width="5" height="3" fill="#000"/>
<rect x="706" y="250" width="3" height="1" fill="#fff"/>
<rect x="715" y="244" width="1" height="26" fill="#000"/>
<rect x="713" y="249" width="5" height="1" fill="#000"/>
<rect x="723" y="214" width="1" height="52" fill="#000"/>
<rect x="721" y="250" width="5" height="16" fill="#000"/>
<rect x="731" y="242" width="1" height="30" fill="#000"/>
<rect x="729" y="245" width="5" height="20" fill="#000"/>
<rect x="730" y="246" width="3" height="18" fill="#fff"/>
<rect x="739" y="244" width="1" height="41" fill="#000"/>
<rect x="737" y="245" width="5" height="25" fill="#000"/>
<rect x="747" y="262" width="1" height="37" fill="#000"/>
<rect x="745" y="269" width="5" height="30" fill="#000"/>
<rect x="755" y="301" width="1" height="2" fill="#000"/>
<rect x="753" y="301" width="5" height="2" fill="#000"/>
<rect x="763" y="301" width="1" height="43" fill="#000"/>
<rect x="761" y="302" width="5" height="32" fill="#000"/>
<rect x="771" y="318" width="1" height="26" fill="#000"/>
<rect x="769" y="334" width="5" height="1" fill="#000"/>
<rect x="779" y="320" width="1" height="39" fill="#000"/>
<rect x="777" y="335" width="5" height="20" fill="#000"/>
<rect x="787" y="291" width="1" height="65" fill="#000"/>
<rect x="785" y="305" width="5" height="49" fill="#000"/>
<rect x="786" y="306" width="3" height="47" fill="#fff"/>
<rect x="795" y="298" width="1" height="38" fill="#000"/>
<rect x="793" y="305" width="5" height="31" fill="#000"/>
<rect x="803" y="329" width="1" height="4" fill="#000"/>
<rect x="801" y="330" width="5" height="1" fill="#000"/>
<rect x="811" y="302" width="1" height="33" fill="#000"/>
<rect x="809" y="315" width="5" height="16" fill="#000"/>
<rect x="810" y="316" width="3" height="14" fill="#fff"/>
<rect x="819" y="307" width="1" height="93" fill="#000"/>
<rect x="817" y="315" width="5" height="76" fill="#000"/>
<rect x="827" y="384" width="1" height="66" fill="#000"/>
<rect x="825" y="390" width="5" height="55" fill="#000"/>
<rect x="835" y="401" width="1" height="49" fill="#000"/>
<rect x="833" y="424" width="5" height="21" fill="#000"/>
<rect x="834" y="425" width="3" height="19" fill="#fff"/>
<rect x="843" y="374" width="1" height="68" fill="#000"/>
<rect x="841" y="384" width="5" height="41" fill="#000"/>
<rect x="842" y="385" width="3" height="39" fill="#fff"/>
<rect x="851" y="375" width="1" height="3" fill="#000"/>
<rect x="849" y="376" width="5" height="1" fill="#000"/>
<rect x="859" y="343" width="1" height="51" fill="#000"/>
<rect x="857" y="359" width="5" height="19" fill="#000"/>
<rect x="858" y="360" width="3" height="17" fill="#fff"/>
<rect x="867" y="340" width="1" height="29" fill="#000"/>
<rect x="865" y="350" width="5" height="10" fill="#000"/>
<rect x="866" y="351" width="3" height="8" fill="#fff"/>
<rect x="875" y="348" width="1" height="42" fill="#000"/>
<rect x="873" y="350" width="5" height="17" fill="#000"/>
<rect x="883" y="344" width="1" height="32" fill="#000"/>
<rect x="881" y="353" width="5" height="14" fill="#000"/>
<rect x="882" y="354" width="3" height="12" fill="#fff"/>
<rect x="891" y="335" width="1" height="35" fill="#000"/>
<rect x="889" y="353" width="5" height="1" fill="#000"/>
<rect x="899" y="354" width="1" height="2" fill="#000"/>
<rect x="897" y="354" width="5" height="1" fill="#000"/>
<rect x="907" y="328" width="1" height="41" fill="#000"/>
<rect x="905" y="354" width="5" height="13" fill="#000"/>
<rect x="915" y="344" width="1" height="33" fill="#000"/>
<rect x="913" y="366" width="5" height="9" fill="#000"/>
<rect x="923" y="329" width="1" height="45" fill="#000"/>
<rect x="921" y="330" width="5" height="44" fill="#000"/>
<rect x="922" y="331" width="3" height="42" fill="#fff"/>
<rect x="931" y="299" width="1" height="36" fill="#000"/>
<rect x="929" y="330" width="5" height="1" fill="#000"/>
<rect x="939" y="281" width="1" height="50" fill="#000"/>
<rect x="937" y="292" width="5" height="39" fill="#000"/>
<rect x="938" y="293" width="3" height="37" fill="#fff"/>
<rect x="947" y="284" width="1" height="4" fill="#000"/>
<rect x="945" y="286" width="5" height="1" fill="#000"/>
<rect x="955" y="286" width="1" height="25" fill="#000"/>
<rect x="953" y="286" width="5" height="13" fill="#000"/>
<rect x="963" y="251" width="1" height="48" fill="#000"/>
<rect x="961" y="272" width="5" height="27" fill="#000"/>
<rect x="962" y="273" width="3" height="25" fill="#fff"/>
<rect x="971" y="253" width="1" height="43" fill="#000"/>
<rect x="969" y="258" width="5" height="14" fill="#000"/>
<rect x="970" y="259" width="3" height="12" fill="#fff"/>
<rect x="979" y="253" width="1" height="26" fill="#000"/>
<rect x="977" y="257" width="5" height="16" fill="#000"/>
<rect x="987" y="261" width="1" height="37" fill="#000"/>
<rect x="985" y="272" width="5" height="17" fill="#000"/>
<rect x="995" y="284" width="1" height="6" fill="#000"/>
<rect x="993" y="286" width="5" height="1" fill="#000"/>
<rect x="1003" y="272" width="1" height="24" fill="#000"/>
<rect x="1001" y="286" width="5" height="1" fill="#000"/>
<rect x="1011" y="254" width="1" height="35" fill="#000"/>
<rect x="1009" y="284" width="5" height="1" fill="#000"/>
<rect x="1019" y="277" width="1" height="34" fill="#000"/>
<rect x="1017" y="284" width="5" height="17" fill="#000"/>
<rect x="1027" y="261" width="1" height="44" fill="#000"/>
<rect x="1025" y="269" width="5" height="32" fill="#000"/>
<rect x="1026" y="270" width="3" height="30" fill="#fff"/>
<rect x="1035" y="266" width="1" height="64" fill="#000"/>
<rect x="1033" y="268" width="5" height="53" fill="#000"/>
<rect x="1043" y="322" width="1" height="2" fill="#000"/>
<rect x="1041" y="323" width="5" height="1" fill="#000"/>
<rect x="1051" y="318" width="1" height="24" fill="#000"/>
<rect x="1049" y="322" width="5" height="16" fill="#000"/>
<rect x="1059" y="330" width="1" height="29" fill="#000"/>
<rect x="1057" y="336" width="5" height="20" fill="#000"/>
<rect x="1067" y="316" width="1" height="43" fill="#000"/>
<rect x="1065" y="318" width="5" height="37" fill="#000"/>
<rect x="1066" y="319" width="3" height="35" fill="#fff"/>
<rect x="1075" y="318" width="1" height="105" fill="#000"/>
<rect x="1073" y="318" width="5" height="89" fill="#000"/>
<rect x="1083" y="405" width="1" height="40" fill="#000"/>
<rect x="1081" y="405" width="5" height="14" fill="#000"/>
<rect x="1091" y="414" width="1" height="2" fill="#000"/>
<rect x="1089" y="415" width="5" height="1" fill="#000"/>
<rect x="1099" y="373" width="1" height="61" fill="#000"/>
<rect x="1097" y="379" width="5" height="36" fill="#000"/>
<rect x="1098" y="380" width="3" height="34" fill="#fff"/>
<rect x="1107" y="359" width="1" height="40" fill="#000"/>
<rect x="1105" y="380" width="5" height="1" fill="#000"/>
<rect x="1115" y="380" width="1" height="76" fill="#000"/>
<rect x="1113" y="380" width="5" height="72" fill="#000"/>
<rect x="1123" y="441" width="1" height="36" fill="#000"/>
<rect x="1121" y="451" width="5" height="23" fill="#000"/>
<rect x="1131" y="445" width="1" height="35" fill="#000"/>
<rect x="1129" y="450" width="5" height="23" fill="#000"/>
<rect x="1130" y="451" width="3" height="21" fill="#fff"/>
<rect x="1139" y="449" width="1" height="2" fill="#000"/>
<rect x="1137" y="450" width="5" height="1" fill="#000"/>
<rect x="1147" y="433" width="1" height="22" fill="#000"/>
<rect x="1145" y="449" width="5" height="5" fill="#000"/>
<rect x="1155" y="422" width="1" height="31" fill="#000"/>
<rect x="1153" y="445" width="5" height="8" fill="#000"/>
<rect x="1154" y="446" width="3" height="6" fill="#fff"/>
<rect x="1163" y="412" width="1" height="47" fill="#000"/>
<rect x="1161" y="415" width="5" height="31" fill="#000"/>
<rect x="1162" y="416" width="3" height="29" fill="#fff"/>
<rect x="1171" y="404" width="1" height="23" fill="#000"/>
<rect x="1169" y="410" width="5" height="6" fill="#000"/>
<rect x="1170" y="411" width="3" height="4" fill="#fff"/>
<rect x="1179" y="405" width="1" height="49" fill="#000"/>
<rect x="1177" y="410" width="5" height="25" fill="#000"/>
<rect x="1187" y="435" width="1" height="7" fill="#000"/>
<rect x="1185" y="435" width="5" height="7" fill="#000"/>
<rect x="1195" y="433" width="1" height="32" fill="#000"/>
<rect x="1193" y="441" width="5" height="18" fill="#000"/>
<rect x="1203" y="457" width="1" height="28" fill="#000"/>
<rect x="1201" y="458" width="5" height="11" fill="#000"/>
<rect x="1211" y="464" width="1" height="33" fill="#000"/>
<rect x="1209" y="467" width="5" height="24" fill="#000"/>
<rect x="1219" y="478" width="1" height="24" fill="#000"/>
<rect x="1217" y="490" width="5" height="9" fill="#000"/>
<rect x="1227" y="484" width="1" height="31" fill="#000"/>
<rect x="1225" y="489" width="5" height="10" fill="#000"/>
<rect x="1226" y="490" width="3" height="8" fill="#fff"/>
<rect x="1235" y="483" width="1" height="7" fill="#000"/>
<rect x="1233" y="485" width="5" height="5" fill="#000"/>
<rect x="1234" y="486" width="3" height="3" fill="#fff"/>
<rect x="1243" y="474" width="1" height="37" fill="#000"/>
<rect x="1241" y="484" width="5" height="14" fill="#000"/>
<rect x="1251" y="471" width="1" height="83" fill="#000"/>
<rect x="1249" y="497" width="5" height="10" fill="#000"/>
<rect x="1259" y="479" width="1" height="43" fill="#000"/>
<rect x="1257" y="506" width="5" height="10" fill="#000"/>
<rect x="1267" y="488" width="1" height="30" fill="#000"/>
<rect x="1265" y="504" width="5" height="11" fill="#000"/>
<rect x="1266" y="505" width="3" height="9" fill="#fff"/>
<rect x="1275" y="499" width="1" height="49" fill="#000"/>
<rect x="1273" y="504" width="5" height="34" fill="#000"/>
<rect x="1283" y="532" width="1" height="2" fill="#000"/>
<rect x="1281" y="533" width="5" height="1" fill="#000"/>
<rect x="1291" y="510" width="1" height="30" fill="#000"/>
<rect x="1289" y="522" width="5" height="13" fill="#000"/>
<rect x="1290" y="523" width="3" height="11" fill="#fff"/>
<rect x="1299" y="509" width="1" height="39" fill="#000"/>
<rect x="1297" y="521" width="5" height="10" fill="#000"/>
<rect x="1307" y="522" width="1" height="46" fill="#000"/>
<rect x="1305" y="529" width="5" height="19" fill="#000"/>
<rect x="1315" y="540" width="1" height="26" fill="#000"/>
<rect x="1313" y="540" width="5" height="8" fill="#000"/>
<rect x="1314" y="541" width="3" height="6" fill="#fff"/>
<rect x="1323" y="515" width="1" height="42" fill="#000"/>
<rect x="1321" y="524" width="5" height="17" fill="#000"/>
<rect x="1322" y="525" width="3" height="15" fill="#fff"/>
<rect x="1331" y="524" width="1" height="2" fill="#000"/>
<rect x="1329" y="524" width="5" height="1" fill="#000"/>
<rect x="1339" y="522" width="1" height="25" fill="#000"/>
<rect x="1337" y="524" width="5" height="23" fill="#000"/>
<rect x="1347" y="524" width="1" height="32" fill="#000"/>
<rect x="1345" y="537" width="5" height="9" fill="#000"/>
<rect x="1346" y="538" width="3" height="7" fill="#fff"/>
<rect x="1355" y="512" width="1" height="53" fill="#000"/>
<rect x="1353" y="522" width="5" height="16" fill="#000"/>
<rect x="1354" y="523" width="3" height="14" fill="#fff"/>
<rect x="1363" y="469" width="1" height="63" fill="#000"/>
<rect x="1361" y="493" width="5" height="30" fill="#000"/>
<rect x="1362" y="494" width="3" height="28" fill="#fff"/>
<rect x="1371" y="485" width="1" height="45" fill="#000"/>
<rect x="1369" y="493" width="5" height="36" fill="#000"/>
<rect x="1379" y="533" width="1" height="7" fill="#000"/>
<rect x="1377" y="534" width="5" height="4" fill="#000"/>
<rect x="1387" y="530" width="1" height="33" fill="#000"/>
<rect x="1385" y="537" width="5" height="12" fill="#000"/>
<rect x="1395" y="517" width="1" height="36" fill="#000"/>
<rect x="1393" y="519" width="5" height="28" fill="#000"/>
<rect x="1394" y="520" width="3" height="26" fill="#fff"/>
<rect x="1403" y="474" width="1" height="59" fill="#000"/>
<rect x="1401" y="480" width="5" height="39" fill="#000"/>
<rect x="1402" y="481" width="3" height="37" fill="#fff"/>
<rect x="1411" y="439" width="1" height="45" fill="#000"/>
<rect x="1409" y="455" width="5" height="26" fill="#000"/>
<rect x="1410" y="456" width="3" height="24" fill="#fff"/>
<rect x="1419" y="447" width="1" height="19" fill="#000"/>
<rect x="1417" y="455" width="5" height="5" fill="#000"/>
<rect x="1427" y="453" width="1" height="6" fill="#000"/>
<rect x="1425" y="455" width="5" height="4" fill="#000"/>
<rect x="1426" y="456" width="3" height="2" fill="#fff"/>
<rect x="1435" y="435" width="1" height="27" fill="#000"/>
<rect x="1433" y="437" width="5" height="19" fill="#000"/>
<rect x="1434" y="438" width="3" height="17" fill="#fff"/>
<rect x="1443" y="427" width="1" height="23" fill="#000"/>
<rect x="1441" y="437" width="5" height="5" fill="#000"/>
<rect x="1451" y="410" width="1" height="43" fill="#000"/>
<rect x="1449" y="411" width="5" height="31" fill="#000"/>
<rect x="1450" y="412" width="3" height="29" fill="#fff"/>
<rect x="1459" y="399" width="1" height="33" fill="#000"/>
<rect x="1457" y="411" width="5" height="1" fill="#000"/>
<rect x="1467" y="386" width="1" height="41" fill="#000"/>
<rect x="1465" y="394" width="5" height="18" fill="#000"/>
<rect x="1466" y="395" width="3" height="16" fill="#fff"/>
</g>
</g>
<rect x="268.5" y="366.5" width="61.0" height="18.0" fill="#fff" stroke="#ff0000" stroke-width="1"/>
<rect x="330" y="375" width="9" height="1" fill="#ff0000"/>
<text x="270.8" y="382.0" font-family='"Liberation Sans", sans-serif' font-size="16" fill="#ff0000" textLength="57.0" lengthAdjust="spacingAndGlyphs">1.35720</text>
<rect x="757.5" y="443.5" width="60.0" height="17.0" fill="#fff" stroke="#ff0000" stroke-width="1"/>
<rect x="818" y="451" width="9" height="1" fill="#ff0000"/>
<text x="759.8" y="458.0" font-family='"Liberation Sans", sans-serif' font-size="16" fill="#ff0000" textLength="56.0" lengthAdjust="spacingAndGlyphs">1.34112</text>
<rect x="892.5" y="242.5" width="61.0" height="18.0" fill="#fff" stroke="#ff0000" stroke-width="1"/>
<rect x="954" y="251" width="9" height="1" fill="#ff0000"/>
<text x="894.8" y="258.0" font-family='"Liberation Sans", sans-serif' font-size="16" fill="#ff0000" textLength="57.0" lengthAdjust="spacingAndGlyphs">1.38351</text>
<rect x="1236.5" y="560.5" width="61.0" height="18.0" fill="#fff" stroke="#ff0000" stroke-width="1"/>
<rect x="1298" y="568" width="9" height="1" fill="#ff0000"/>
<text x="1238.8" y="576.0" font-family='"Liberation Sans", sans-serif' font-size="16" fill="#ff0000" textLength="57.0" lengthAdjust="spacingAndGlyphs">1.31609</text>
<rect x="1396.5" y="377.5" width="61.0" height="18.0" fill="#fff" stroke="#ff0000" stroke-width="1"/>
<rect x="1458" y="386" width="9" height="1" fill="#ff0000"/>
<text x="1398.8" y="393.0" font-family='"Liberation Sans", sans-serif' font-size="16" fill="#ff0000" textLength="57.0" lengthAdjust="spacingAndGlyphs">1.35487</text>
<rect x="1458.5" y="383.5" width="2" height="3" fill="#fff" stroke="#ff0000" stroke-width="1"/>
<rect x="1517.5" y="305.5" width="44" height="24" fill="none" stroke="#333" stroke-width="1"/>
<rect x="1538.5" y="302.5" width="2" height="2" fill="none" stroke="#00ff00" stroke-width="1"/>
<rect x="1538.5" y="380.5" width="66" height="24" fill="none" stroke="#333" stroke-width="1"/>
<rect x="1570.5" y="377.5" width="2" height="2" fill="none" stroke="#00ff00" stroke-width="1"/>
<rect x="1549.5" y="457.5" width="44" height="24" fill="none" stroke="#333" stroke-width="1"/>
<rect x="1570.5" y="454.5" width="2" height="2" fill="none" stroke="#00ff00" stroke-width="1"/>
<path transform="translate(1518.50,306.50) scale(0.975)" d="M1,2H19 M2.5,2V11Q2.5,16 0.5,19 M5,9.5H17 M11,5V18 M4,18H19 M14,12.5L16,14.5" fill="none" stroke="#00ff00" stroke-width="1.23" stroke-linecap="square"/>
<path transform="translate(1539.50,306.50) scale(0.975)" d="M4,1L2.5,4 M2.5,4H11 M0.5,8H12 M6.5,0.5V19.5 M2.5,12V17 M2.5,12H10.5V16L9.5,17 M14,3V14 M18,0.5V18.5L16.5,17.5" fill="none" stroke="#00ff00" stroke-width="1.23" stroke-linecap="square"/>
<path transform="translate(1539.00,381.50) scale(0.975)" d="M0.5,4H8 M4,0.5L1.5,10H8 M4.5,7V19.5 M0.5,14H8.5 M10,4H19 M10,9H19.5 M14.5,0.5L12,13H18L14.5,18.5 M13.5,15L17,18" fill="none" stroke="#00ff00" stroke-width="1.23" stroke-linecap="square"/>
<path transform="translate(1560.50,381.50) scale(0.975)" d="M0.5,6H7.5 M4,0.5V18L2.5,17 M0.5,13L7.5,10 M18.5,1L10.5,3.5 M10.5,3.5V10Q10.5,16 8.5,19.5 M10.5,9H19.5 M15,9V19.5" fill="none" stroke="#00ff00" stroke-width="1.23" stroke-linecap="square"/>
<path transform="translate(1582.00,381.50) scale(0.975)" d="M9.5,0.5V9 M9.5,4.5H17 M3.5,9H16V14H3.5Z M2,19L3.5,16.5 M7,16.5L8,19 M11.5,16.5L12.5,19 M16,16.5L18,19" fill="none" stroke="#00ff00" stroke-width="1.23" stroke-linecap="square"/>
<path transform="translate(1550.50,458.50) scale(0.975)" d="M1,5H19 M10,0.5V10 M3.5,10H15L3,19.5 M6,12Q10,18 19,19.5" fill="none" stroke="#00ff00" stroke-width="1.23" stroke-linecap="square"/>
<path transform="translate(1571.50,458.50) scale(0.975)" d="M0.5,6H7 M4,0.5V18.5L2.5,17.5 M0.5,13L7,10.5 M13.5,0.5V3 M10,1L11.5,3 M18,1L16.5,3 M9,4H19.5 M9,4V6 M19.5,4V6 M11,7H17V9H11Z M10.5,11H18L15,13 M9,15H19.5 M14,12.5V19L12.5,18" fill="none" stroke="#00ff00" stroke-width="1.23" stroke-linecap="square"/>
<line x1="1169.0" y1="415.0" x2="1298.2" y2="560.4" stroke="#ff0000" stroke-width="4" stroke-linecap="round"/>
<polygon fill="#ff0000" points="1305.5,568.6 1292.4,562.9 1301.3,554.9"/>
<line x1="1305.5" y1="568.6" x2="1367.5" y2="480.0" stroke="#ff0000" stroke-width="4" stroke-linecap="round"/>
<polygon fill="#ff0000" points="1373.8,471.0 1371.3,485.1 1361.4,478.2"/>
<line x1="1373.5" y1="474.0" x2="1385.9" y2="547.8" stroke="#ff0000" stroke-width="4" stroke-linecap="round"/>
<polygon fill="#ff0000" points="1387.7,558.6 1379.6,546.8 1391.5,544.8"/>
<line x1="1387.7" y1="558.6" x2="1483.4" y2="379.4" stroke="#ff0000" stroke-width="4" stroke-linecap="round"/>
<polygon fill="#ff0000" points="1488.6,369.7 1487.8,384.0 1477.2,378.3"/>
<line x1="1338.0" y1="738.0" x2="1465.1" y2="628.2" stroke="#ff0000" stroke-width="4" stroke-linecap="round"/>
<polygon fill="#ff0000" points="1473.4,621.0 1467.5,634.0 1459.6,625.0"/>
<line x1="1374.0" y1="857.0" x2="1468.7" y2="815.1" stroke="#ff0000" stroke-width="4" stroke-linecap="round"/>
<polygon fill="#ff0000" points="1478.8,810.7 1469.3,821.4 1464.5,810.5"/>
<g font-family='"Liberation Sans", sans-serif' font-size="9" fill="#000">
<rect x="1647" y="52" width="3" height="1" fill="#000"/>
<text transform="translate(1652.30,55.10) scale(0.9,1)" font-family='"Liberation Sans", sans-serif' font-size="10" fill="#000">1.42580</text>
<rect x="1647" y="85" width="3" height="1" fill="#000"/>
<text transform="translate(1652.30,88.05) scale(0.9,1)" font-family='"Liberation Sans", sans-serif' font-size="10" fill="#000">1.41880</text>
<rect x="1647" y="118" width="3" height="1" fill="#000"/>
<text transform="translate(1652.30,121.00) scale(0.9,1)" font-family='"Liberation Sans", sans-serif' font-size="10" fill="#000">1.41180</text>
<rect x="1647" y="150" width="3" height="1" fill="#000"/>
<text transform="translate(1652.30,153.95) scale(0.9,1)" font-family='"Liberation Sans", sans-serif' font-size="10" fill="#000">1.40480</text>
<rect x="1647" y="183" width="3" height="1" fill="#000"/>
<text transform="translate(1652.30,186.90) scale(0.9,1)" font-family='"Liberation Sans", sans-serif' font-size="10" fill="#000">1.39780</text>
<rect x="1647" y="216" width="3" height="1" fill="#000"/>
<text transform="translate(1652.30,219.85) scale(0.9,1)" font-family='"Liberation Sans", sans-serif' font-size="10" fill="#000">1.39080</text>
<rect x="1647" y="249" width="3" height="1" fill="#000"/>
<text transform="translate(1652.30,252.80) scale(0.9,1)" font-family='"Liberation Sans", sans-serif' font-size="10" fill="#000">1.38380</text>
<rect x="1647" y="282" width="3" height="1" fill="#000"/>
<text transform="translate(1652.30,285.75) scale(0.9,1)" font-family='"Liberation Sans", sans-serif' font-size="10" fill="#000">1.37680</text>
<rect x="1647" y="315" width="3" height="1" fill="#000"/>
<text transform="translate(1652.30,318.70) scale(0.9,1)" font-family='"Liberation Sans", sans-serif' font-size="10" fill="#000">1.36980</text>
<rect x="1647" y="348" width="3" height="1" fill="#000"/>
<text transform="translate(1652.30,351.65) scale(0.9,1)" font-family='"Liberation Sans", sans-serif' font-size="10" fill="#000">1.36280</text>
<rect x="1647" y="381" width="3" height="1" fill="#000"/>
<text transform="translate(1652.30,384.60) scale(0.9,1)" font-family='"Liberation Sans", sans-serif' font-size="10" fill="#000">1.35580</text>
<rect x="1647" y="414" width="3" height="1" fill="#000"/>
<text transform="translate(1652.30,417.55) scale(0.9,1)" font-family='"Liberation Sans", sans-serif' font-size="10" fill="#000">1.34900</text>
<rect x="1647" y="447" width="3" height="1" fill="#000"/>
<text transform="translate(1652.30,450.50) scale(0.9,1)" font-family='"Liberation Sans", sans-serif' font-size="10" fill="#000">1.34200</text>
<rect x="1647" y="480" width="3" height="1" fill="#000"/>
<text transform="translate(1652.30,483.45) scale(0.9,1)" font-family='"Liberation Sans", sans-serif' font-size="10" fill="#000">1.33500</text>
<rect x="1647" y="513" width="3" height="1" fill="#000"/>
<text transform="translate(1652.30,516.40) scale(0.9,1)" font-family='"Liberation Sans", sans-serif' font-size="10" fill="#000">1.32800</text>
<rect x="1647" y="546" width="3" height="1" fill="#000"/>
<text transform="translate(1652.30,549.35) scale(0.9,1)" font-family='"Liberation Sans", sans-serif' font-size="10" fill="#000">1.32100</text>
<rect x="1647" y="579" width="3" height="1" fill="#000"/>
<text transform="translate(1652.30,582.30) scale(0.9,1)" font-family='"Liberation Sans", sans-serif' font-size="10" fill="#000">1.31400</text>
</g>
<rect x="1648" y="389" width="41" height="11" fill="#000"/>
<text transform="translate(1651.50,398.00) scale(0.9,1)" font-family='"Liberation Sans", sans-serif' font-size="10" fill="#fff">1.35320</text>
<rect x="1648" y="394" width="41" height="11" fill="#ff0000"/>
<text transform="translate(1651.50,403.30) scale(0.9,1)" font-family='"Liberation Sans", sans-serif' font-size="10" fill="#fff">1.35191</text>
<rect x="1648" y="327" width="41" height="11" fill="#0000ff"/>
<text transform="translate(1651.50,336.50) scale(0.9,1)" font-family='"Liberation Sans", sans-serif' font-size="10" fill="#fff">1.36609</text>
<rect x="1648" y="462" width="41" height="11" fill="#0000ff"/>
<text transform="translate(1651.50,471.30) scale(0.9,1)" font-family='"Liberation Sans", sans-serif' font-size="10" fill="#fff">1.33752</text>
<rect x="1641.5" y="398.5" width="4" height="4" fill="#fff" stroke="#ff0000"/>
<rect x="1641.5" y="466.5" width="4" height="4" fill="#fff" stroke="#0000ff"/>
<g clip-path="url(#clipMacd)">
<g shape-rendering="crispEdges">
<rect x="3" y="604" width="1" height="60" fill="#c0c0c0"/>
<rect x="11" y="607" width="1" height="57" fill="#c0c0c0"/>
<rect x="19" y="616" width="1" height="48" fill="#c0c0c0"/>
<rect x="27" y="619" width="1" height="45" fill="#c0c0c0"/>
<rect x="35" y="621" width="1" height="43" fill="#c0c0c0"/>
<rect x="43" y="623" width="1" height="41" fill="#c0c0c0"/>
<rect x="51" y="627" width="1" height="37" fill="#c0c0c0"/>
<rect x="59" y="633" width="1" height="31" fill="#c0c0c0"/>
<rect x="67" y="634" width="1" height="30" fill="#c0c0c0"/>
<rect x="75" y="640" width="1" height="24" fill="#c0c0c0"/>
<rect x="83" y="644" width="1" height="20" fill="#c0c0c0"/>
<rect x="91" y="648" width="1" height="16" fill="#c0c0c0"/>
<rect x="99" y="654" width="1" height="10" fill="#c0c0c0"/>
<rect x="107" y="664" width="1" height="1" fill="#c0c0c0"/>
<rect x="115" y="664" width="1" height="15" fill="#c0c0c0"/>
<rect x="123" y="664" width="1" height="35" fill="#c0c0c0"/>
<rect x="131" y="664" width="1" height="51" fill="#c0c0c0"/>
<rect x="139" y="664" width="1" height="54" fill="#c0c0c0"/>
<rect x="147" y="664" width="1" height="53" fill="#c0c0c0"/>
<rect x="155" y="664" width="1" height="51" fill="#c0c0c0"/>
<rect x="163" y="664" width="1" height="53" fill="#c0c0c0"/>
<rect x="171" y="664" width="1" height="57" fill="#c0c0c0"/>
<rect x="179" y="664" width="1" height="58" fill="#c0c0c0"/>
<rect x="187" y="664" width="1" height="59" fill="#c0c0c0"/>
<rect x="195" y="664" width="1" height="63" fill="#c0c0c0"/>
<rect x="203" y="664" width="1" height="66" fill="#c0c0c0"/>
<rect x="211" y="664" width="1" height="73" fill="#c0c0c0"/>
<rect x="219" y="664" width="1" height="72" fill="#c0c0c0"/>
<rect x="227" y="664" width="1" height="70" fill="#c0c0c0"/>
<rect x="235" y="664" width="1" height="66" fill="#c0c0c0"/>
<rect x="243" y="664" width="1" height="66" fill="#c0c0c0"/>
<rect x="251" y="664" width="1" height="66" fill="#c0c0c0"/>
<rect x="259" y="664" width="1" height="66" fill="#c0c0c0"/>
<rect x="267" y="664" width="1" height="57" fill="#c0c0c0"/>
<rect x="275" y="664" width="1" height="49" fill="#c0c0c0"/>
<rect x="283" y="664" width="1" height="43" fill="#c0c0c0"/>
<rect x="291" y="664" width="1" height="44" fill="#c0c0c0"/>
<rect x="299" y="664" width="1" height="40" fill="#c0c0c0"/>
<rect x="307" y="664" width="1" height="39" fill="#c0c0c0"/>
<rect x="315" y="664" width="1" height="43" fill="#c0c0c0"/>
<rect x="323" y="664" width="1" height="46" fill="#c0c0c0"/>
<rect x="331" y="664" width="1" height="55" fill="#c0c0c0"/>
<rect x="339" y="664" width="1" height="65" fill="#c0c0c0"/>
<rect x="347" y="664" width="1" height="65" fill="#c0c0c0"/>
<rect x="355" y="664" width="1" height="60" fill="#c0c0c0"/>
<rect x="363" y="664" width="1" height="56" fill="#c0c0c0"/>
<rect x="371" y="664" width="1" height="53" fill="#c0c0c0"/>
<rect x="379" y="664" width="1" height="44" fill="#c0c0c0"/>
<rect x="387" y="664" width="1" height="31" fill="#c0c0c0"/>
<rect x="395" y="664" width="1" height="20" fill="#c0c0c0"/>
<rect x="403" y="664" width="1" height="6" fill="#c0c0c0"/>
<rect x="411" y="664" width="1" height="1" fill="#c0c0c0"/>
<rect x="419" y="661" width="1" height="3" fill="#c0c0c0"/>
<rect x="427" y="658" width="1" height="6" fill="#c0c0c0"/>
<rect x="435" y="653" width="1" height="11" fill="#c0c0c0"/>
<rect x="443" y="652" width="1" height="12" fill="#c0c0c0"/>
<rect x="451" y="648" width="1" height="16" fill="#c0c0c0"/>
<rect x="459" y="650" width="1" height="14" fill="#c0c0c0"/>
<rect x="467" y="652" width="1" height="12" fill="#c0c0c0"/>
<rect x="475" y="655" width="1" height="9" fill="#c0c0c0"/>
<rect x="483" y="659" width="1" height="5" fill="#c0c0c0"/>
<rect x="491" y="659" width="1" height="5" fill="#c0c0c0"/>
<rect x="499" y="664" width="1" height="0" fill="#c0c0c0"/>
<rect x="507" y="663" width="1" height="1" fill="#c0c0c0"/>
<rect x="515" y="663" width="1" height="1" fill="#c0c0c0"/>
<rect x="523" y="664" width="1" height="0" fill="#c0c0c0"/>
<rect x="531" y="664" width="1" height="9" fill="#c0c0c0"/>
<rect x="539" y="664" width="1" height="16" fill="#c0c0c0"/>
<rect x="547" y="664" width="1" height="31" fill="#c0c0c0"/>
<rect x="555" y="664" width="1" height="43" fill="#c0c0c0"/>
<rect x="563" y="664" width="1" height="50" fill="#c0c0c0"/>
<rect x="571" y="664" width="1" height="49" fill="#c0c0c0"/>
<rect x="579" y="664" width="1" height="47" fill="#c0c0c0"/>
<rect x="587" y="664" width="1" height="41" fill="#c0c0c0"/>
<rect x="595" y="664" width="1" height="41" fill="#c0c0c0"/>
<rect x="603" y="664" width="1" height="36" fill="#c0c0c0"/>
<rect x="611" y="664" width="1" height="31" fill="#c0c0c0"/>
<rect x="619" y="664" width="1" height="28" fill="#c0c0c0"/>
<rect x="627" y="664" width="1" height="26" fill="#c0c0c0"/>
<rect x="635" y="664" width="1" height="22" fill="#c0c0c0"/>
<rect x="643" y="664" width="1" height="13" fill="#c0c0c0"/>
<rect x="651" y="664" width="1" height="2" fill="#c0c0c0"/>
<rect x="659" y="662" width="1" height="2" fill="#c0c0c0"/>
<rect x="667" y="658" width="1" height="6" fill="#c0c0c0"/>
<rect x="675" y="661" width="1" height="3" fill="#c0c0c0"/>
<rect x="683" y="663" width="1" height="1" fill="#c0c0c0"/>
<rect x="691" y="660" width="1" height="4" fill="#c0c0c0"/>
<rect x="699" y="656" width="1" height="8" fill="#c0c0c0"/>
<rect x="707" y="654" width="1" height="10" fill="#c0c0c0"/>
<rect x="715" y="653" width="1" height="11" fill="#c0c0c0"/>
<rect x="723" y="656" width="1" height="8" fill="#c0c0c0"/>
<rect x="731" y="653" width="1" height="11" fill="#c0c0c0"/>
<rect x="739" y="656" width="1" height="8" fill="#c0c0c0"/>
<rect x="747" y="662" width="1" height="2" fill="#c0c0c0"/>
<rect x="755" y="664" width="1" height="4" fill="#c0c0c0"/>
<rect x="763" y="664" width="1" height="13" fill="#c0c0c0"/>
<rect x="771" y="664" width="1" height="22" fill="#c0c0c0"/>
<rect x="779" y="664" width="1" height="31" fill="#c0c0c0"/>
<rect x="787" y="664" width="1" height="30" fill="#c0c0c0"/>
<rect x="795" y="664" width="1" height="34" fill="#c0c0c0"/>
<rect x="803" y="664" width="1" height="35" fill="#c0c0c0"/>
<rect x="811" y="664" width="1" height="33" fill="#c0c0c0"/>
<rect x="819" y="664" width="1" height="45" fill="#c0c0c0"/>
<rect x="827" y="664" width="1" height="62" fill="#c0c0c0"/>
<rect x="835" y="664" width="1" height="72" fill="#c0c0c0"/>
<rect x="843" y="664" width="1" height="72" fill="#c0c0c0"/>
<rect x="851" y="664" width="1" height="69" fill="#c0c0c0"/>
<rect x="859" y="664" width="1" height="64" fill="#c0c0c0"/>
<rect x="867" y="664" width="1" height="59" fill="#c0c0c0"/>
<rect x="875" y="664" width="1" height="54" fill="#c0c0c0"/>
<rect x="883" y="664" width="1" height="49" fill="#c0c0c0"/>
<rect x="891" y="664" width="1" height="45" fill="#c0c0c0"/>
<rect x="899" y="664" width="1" height="41" fill="#c0c0c0"/>
<rect x="907" y="664" width="1" height="39" fill="#c0c0c0"/>
<rect x="915" y="664" width="1" height="39" fill="#c0c0c0"/>
<rect x="923" y="664" width="1" height="30" fill="#c0c0c0"/>
<rect x="931" y="664" width="1" height="24" fill="#c0c0c0"/>
<rect x="939" y="664" width="1" height="12" fill="#c0c0c0"/>
<rect x="947" y="664" width="1" height="1" fill="#c0c0c0"/>
<rect x="955" y="660" width="1" height="4" fill="#c0c0c0"/>
<rect x="963" y="650" width="1" height="14" fill="#c0c0c0"/>
<rect x="971" y="641" width="1" height="23" fill="#c0c0c0"/>
<rect x="979" y="636" width="1" height="28" fill="#c0c0c0"/>
<rect x="987" y="635" width="1" height="29" fill="#c0c0c0"/>
<rect x="995" y="635" width="1" height="29" fill="#c0c0c0"/>
<rect x="1003" y="634" width="1" height="30" fill="#c0c0c0"/>
<rect x="1011" y="634" width="1" height="30" fill="#c0c0c0"/>
<rect x="1019" y="637" width="1" height="27" fill="#c0c0c0"/>
<rect x="1027" y="636" width="1" height="28" fill="#c0c0c0"/>
<rect x="1035" y="642" width="1" height="22" fill="#c0c0c0"/>
<rect x="1043" y="648" width="1" height="16" fill="#c0c0c0"/>
<rect x="1051" y="656" width="1" height="8" fill="#c0c0c0"/>
<rect x="1059" y="664" width="1" height="0" fill="#c0c0c0"/>
<rect x="1067" y="664" width="1" height="0" fill="#c0c0c0"/>
<rect x="1075" y="664" width="1" height="16" fill="#c0c0c0"/>
<rect x="1083" y="664" width="1" height="31" fill="#c0c0c0"/>
<rect x="1091" y="664" width="1" height="41" fill="#c0c0c0"/>
<rect x="1099" y="664" width="1" height="41" fill="#c0c0c0"/>
<rect x="1107" y="664" width="1" height="43" fill="#c0c0c0"/>
<rect x="1115" y="664" width="1" height="56" fill="#c0c0c0"/>
<rect x="1123" y="664" width="1" height="69" fill="#c0c0c0"/>
<rect x="1131" y="664" width="1" height="74" fill="#c0c0c0"/>
<rect x="1139" y="664" width="1" height="77" fill="#c0c0c0"/>
<rect x="1147" y="664" width="1" height="79" fill="#c0c0c0"/>
<rect x="1155" y="664" width="1" height="79" fill="#c0c0c0"/>
<rect x="1163" y="664" width="1" height="72" fill="#c0c0c0"/>
<rect x="1171" y="664" width="1" height="65" fill="#c0c0c0"/>
<rect x="1179" y="664" width="1" height="64" fill="#c0c0c0"/>
<rect x="1187" y="664" width="1" height="62" fill="#c0c0c0"/>
<rect x="1195" y="664" width="1" height="64" fill="#c0c0c0"/>
<rect x="1203" y="664" width="1" height="65" fill="#c0c0c0"/>
<rect x="1211" y="664" width="1" height="69" fill="#c0c0c0"/>
<rect x="1219" y="664" width="1" height="75" fill="#c0c0c0"/>
<rect x="1227" y="664" width="1" height="76" fill="#c0c0c0"/>
<rect x="1235" y="664" width="1" height="75" fill="#c0c0c0"/>
<rect x="1243" y="664" width="1" height="76" fill="#c0c0c0"/>
<rect x="1251" y="664" width="1" height="77" fill="#c0c0c0"/>
<rect x="1259" y="664" width="1" height="78" fill="#c0c0c0"/>
<rect x="1267" y="664" width="1" height="78" fill="#c0c0c0"/>
<rect x="1275" y="664" width="1" height="80" fill="#c0c0c0"/>
<rect x="1283" y="664" width="1" height="82" fill="#c0c0c0"/>
<rect x="1291" y="664" width="1" height="79" fill="#c0c0c0"/>
<rect x="1299" y="664" width="1" height="79" fill="#c0c0c0"/>
<rect x="1307" y="664" width="1" height="79" fill="#c0c0c0"/>
<rect x="1315" y="664" width="1" height="79" fill="#c0c0c0"/>
<rect x="1323" y="664" width="1" height="74" fill="#c0c0c0"/>
<rect x="1331" y="664" width="1" height="69" fill="#c0c0c0"/>
<rect x="1339" y="664" width="1" height="70" fill="#c0c0c0"/>
<rect x="1347" y="664" width="1" height="64" fill="#c0c0c0"/>
<rect x="1355" y="664" width="1" height="58" fill="#c0c0c0"/>
<rect x="1363" y="664" width="1" height="49" fill="#c0c0c0"/>
<rect x="1371" y="664" width="1" height="49" fill="#c0c0c0"/>
<rect x="1379" y="664" width="1" height="48" fill="#c0c0c0"/>
<rect x="1387" y="664" width="1" height="48" fill="#c0c0c0"/>
<rect x="1395" y="664" width="1" height="43" fill="#c0c0c0"/>
<rect x="1403" y="664" width="1" height="31" fill="#c0c0c0"/>
<rect x="1411" y="664" width="1" height="19" fill="#c0c0c0"/>
<rect x="1419" y="664" width="1" height="9" fill="#c0c0c0"/>
<rect x="1427" y="664" width="1" height="0" fill="#c0c0c0"/>
<rect x="1435" y="656" width="1" height="8" fill="#c0c0c0"/>
<rect x="1443" y="649" width="1" height="15" fill="#c0c0c0"/>
<rect x="1451" y="641" width="1" height="23" fill="#c0c0c0"/>
<rect x="1459" y="635" width="1" height="29" fill="#c0c0c0"/>
<rect x="1467" y="624" width="1" height="40" fill="#c0c0c0"/>
</g>
<polyline fill="none" stroke="#ff0000" stroke-width="1" stroke-dasharray="3,3" points="0.0,594.0 12.0,598.0 24.0,603.0 40.0,609.0 56.0,613.7 67.5,620.5 75.5,624.5 83.5,628.7 91.5,632.2 99.5,636.1 107.5,640.9 115.5,647.1 123.5,655.1 131.5,664.2 139.5,673.5 147.5,682.0 155.5,689.9 163.5,697.5 171.5,704.9 179.5,711.4 187.5,716.2 195.5,719.3 203.5,721.0 211.5,723.1 219.5,725.1 227.5,727.3 235.5,728.7 243.5,729.8 251.5,730.7 259.5,731.4 267.5,730.7 275.5,728.8 283.5,725.6 291.5,722.4 299.5,719.1 307.5,716.1 315.5,713.5 323.5,711.3 331.5,710.1 339.5,711.0 347.5,712.8 355.5,714.7 363.5,716.0 371.5,717.4 379.5,717.9 387.5,716.7 395.5,713.8 403.5,708.4 411.5,701.1 419.5,693.6 427.5,686.3 435.5,679.0 443.5,671.7 451.5,665.1 459.5,660.1 467.5,656.5 475.5,654.9 483.5,654.3 491.5,654.1 499.5,654.7 507.5,655.8 515.5,657.0 523.5,658.7 531.5,661.2 539.5,664.3 547.5,668.7 555.5,674.0 563.5,680.2 571.5,685.7 579.5,691.0 587.5,695.6 595.5,700.3 603.5,703.3 611.5,705.0 619.5,704.7 627.5,702.8 635.5,699.6 643.5,695.6 651.5,690.7 659.5,685.8 667.5,680.6 675.5,676.3 683.5,672.8 691.5,669.3 699.5,665.5 707.5,662.0 715.5,659.4 723.5,658.2 731.5,657.2 739.5,656.9 747.5,657.0 755.5,657.5 763.5,659.4 771.5,662.7 779.5,667.3 787.5,671.9 795.5,676.5 803.5,681.6 811.5,686.3 819.5,691.5 827.5,698.0 835.5,704.6 843.5,710.2 851.5,714.4 859.5,718.2 867.5,721.0 875.5,723.1 883.5,724.9 891.5,724.9 899.5,722.5 907.5,718.8 915.5,715.0 923.5,710.7 931.5,706.1 939.5,700.9 947.5,694.9 955.5,689.0 963.5,682.5 971.5,675.4 979.5,668.0 987.5,660.4 995.5,653.9 1003.5,648.0 1011.5,643.4 1019.5,640.3 1027.5,637.6 1035.5,636.7 1043.5,637.6 1051.5,639.8 1059.5,642.9 1067.5,646.1 1075.5,651.1 1083.5,657.9 1091.5,665.4 1099.5,673.1 1107.5,680.3 1115.5,688.2 1123.5,696.7 1131.5,704.9 1139.5,713.5 1147.5,720.5 1155.5,725.8 1163.5,729.3 1171.5,731.9 1179.5,734.2 1187.5,735.0 1195.5,734.5 1203.5,733.6 1211.5,732.7 1219.5,732.3 1227.5,732.0 1235.5,732.4 1243.5,733.6 1251.5,735.1 1259.5,736.8 1267.5,738.3 1275.5,739.9 1283.5,741.3 1291.5,741.8 1299.5,742.1 1307.5,742.6 1315.5,742.9 1323.5,742.5 1331.5,741.6 1339.5,740.7 1347.5,738.9 1355.5,736.2 1363.5,732.8 1371.5,729.5 1379.5,726.0 1387.5,722.5 1395.5,719.1 1403.5,714.9 1411.5,709.2 1419.5,703.2 1427.5,696.7 1435.5,690.5 1443.5,683.3 1451.5,675.5 1459.5,667.0 1467.5,657.8"/>
</g>
<text transform="translate(-0.50,597.00) scale(0.925,1)" font-family='"Liberation Sans", sans-serif' font-size="10" fill="#000">ACD(12,26,9) 0.004255 0.000757</text>
<g font-family='"Liberation Sans", sans-serif' font-size="9" fill="#000">
<text transform="translate(1650.20,595.20) scale(0.9,1)" font-family='"Liberation Sans", sans-serif' font-size="10" fill="#000">0.007685</text>
<text transform="translate(1650.20,668.20) scale(0.9,1)" font-family='"Liberation Sans", sans-serif' font-size="10" fill="#000">0.00</text>
<text transform="translate(1649.50,751.20) scale(0.9,1)" font-family='"Liberation Sans", sans-serif' font-size="10" fill="#000">-0.00877</text>
<rect x="1647" y="586" width="3" height="1"/>
</g>
<g shape-rendering="crispEdges">
<line x1="0" y1="792.5" x2="1646" y2="792.5" stroke="#c0c0c0" stroke-width="1" stroke-dasharray="3,3"/>
<line x1="0" y1="843.5" x2="1646" y2="843.5" stroke="#c0c0c0" stroke-width="1" stroke-dasharray="3,3"/>
<line x1="0" y1="904.5" x2="1646" y2="904.5" stroke="#c0c0c0" stroke-width="1" stroke-dasharray="3,3"/>
</g>
<polyline fill="none" stroke="#1e90ff" stroke-width="1" shape-rendering="crispEdges" points="-5,822 3.5,833.9 11.5,832.4 19.5,842.3 27.5,835.1 35.5,834.4 43.5,833.9 51.5,837.6 59.5,843.8 67.5,835.6 75.5,846.3 83.5,843.8 91.5,844.8 99.5,849.8 107.5,862.9 115.5,869.1 123.5,881.0 131.5,881.0 139.5,861.2 147.5,856.7 155.5,854.2 163.5,860.4 171.5,865.4 179.5,861.2 187.5,862.9 195.5,867.9 203.5,869.6 211.5,876.1 219.5,861.2 227.5,862.2 235.5,858.0 243.5,864.2 251.5,864.2 259.5,866.1 267.5,846.3 275.5,844.8 283.5,847.3 291.5,859.2 299.5,849.8 307.5,853.7 315.5,861.7 323.5,863.7 331.5,872.8 339.5,877.0 347.5,862.9 355.5,852.5 363.5,854.2 371.5,854.2 379.5,841.3 387.5,834.9 395.5,831.4 403.5,824.5 411.5,835.5 419.5,836.2 427.5,837.2 435.5,833.0 443.5,838.0 451.5,832.3 459.5,842.2 467.5,843.7 475.5,846.1 483.5,848.4 491.5,842.7 499.5,852.1 507.5,841.2 515.5,843.4 523.5,846.6 531.5,862.0 539.5,861.5 547.5,874.9 555.5,876.4 563.5,874.9 571.5,855.8 579.5,854.1 587.5,847.6 595.5,857.1 603.5,845.4 611.5,846.4 619.5,847.1 627.5,848.4 635.5,844.2 643.5,832.3 651.5,827.3 659.5,831.0 667.5,834.7 675.5,845.9 683.5,848.4 691.5,836.7 699.5,835.5 707.5,836.5 715.5,836.5 723.5,843.4 731.5,835.5 739.5,844.2 747.5,855.8 755.5,857.8 763.5,867.0 771.5,868.2 779.5,873.2 787.5,851.6 795.5,859.0 803.5,858.3 811.5,851.6 819.5,871.4 827.5,879.9 835.5,873.2 843.5,860.3 851.5,857.1 859.5,852.6 867.5,849.6 875.5,852.8 883.5,849.6 891.5,849.6 899.5,850.9 907.5,853.8 915.5,856.6 923.5,840.2 931.5,840.2 939.5,828.5 947.5,827.3 955.5,831.0 963.5,824.1 971.5,820.3 979.5,826.0 987.5,833.0 995.5,832.3 1003.5,832.3 1011.5,832.3 1019.5,839.0 1027.5,828.5 1035.5,847.9 1043.5,849.6 1051.5,854.1 1059.5,860.0 1067.5,845.4 1075.5,868.2 1083.5,870.2 1091.5,868.2 1099.5,856.6 1107.5,857.6 1115.5,871.9 1123.5,875.2 1131.5,867.5 1139.5,867.5 1147.5,868.2 1155.5,865.7 1163.5,854.1 1171.5,852.1 1179.5,858.8 1187.5,861.5 1195.5,865.7 1203.5,869.0 1211.5,873.2 1219.5,875.2 1227.5,870.0 1235.5,868.4 1243.5,871.4 1251.5,874.4 1259.5,876.3 1267.5,870.5 1275.5,879.3 1283.5,877.3 1291.5,870.5 1299.5,871.5 1307.5,877.2 1315.5,873.5 1323.5,864.4 1331.5,864.4 1339.5,871.0 1347.5,866.4 1355.5,857.0 1363.5,843.3 1371.5,856.2 1379.5,859.8 1387.5,863.3 1395.5,849.5 1403.5,836.0 1411.5,828.4 1419.5,829.4 1427.5,828.4 1435.5,822.3 1443.5,823.9 1451.5,816.5 1459.5,815.1 1467.5,811.2"/>
<text transform="translate(-0.50,769.00) scale(0.9,1)" font-family='"Liberation Sans", sans-serif' font-size="10" fill="#000">SI(14) 68.9646</text>
<g font-family='"Liberation Sans", sans-serif' font-size="9" fill="#000">
<text transform="translate(1651.00,767.50) scale(0.9,1)" font-family='"Liberation Sans", sans-serif' font-size="10" fill="#000">100</text>
<text transform="translate(1651.00,796.50) scale(0.9,1)" font-family='"Liberation Sans", sans-serif' font-size="10" fill="#000">80</text>
<text transform="translate(1651.00,847.50) scale(0.9,1)" font-family='"Liberation Sans", sans-serif' font-size="10" fill="#000">50</text>
<text transform="translate(1651.00,908.50) scale(0.9,1)" font-family='"Liberation Sans", sans-serif' font-size="10" fill="#000">15</text>
<text transform="translate(1651.00,927.50) scale(0.9,1)" font-family='"Liberation Sans", sans-serif' font-size="10" fill="#000">0</text>
<rect x="1647" y="792" width="3" height="1"/>
<rect x="1647" y="843" width="3" height="1"/>
<rect x="1647" y="904" width="3" height="1"/>
</g>
<g font-family='"Liberation Sans", sans-serif' font-size="9" fill="#000">
<text transform="translate(-1.00,943.00) scale(0.9,1)" font-family='"Liberation Sans", sans-serif' font-size="10" fill="#000">May 2021</text>
<rect x="51" y="930" width="1" height="4"/>
<text transform="translate(50.50,943.00) scale(0.9,1)" font-family='"Liberation Sans", sans-serif' font-size="10" fill="#000">8 Jun 2021</text>
<rect x="115" y="930" width="1" height="4"/>
<text transform="translate(114.50,943.00) scale(0.9,1)" font-family='"Liberation Sans", sans-serif' font-size="10" fill="#000">17 Jun 2021</text>
<rect x="179" y="930" width="1" height="4"/>
<text transform="translate(178.50,943.00) scale(0.9,1)" font-family='"Liberation Sans", sans-serif' font-size="10" fill="#000">27 Jun 2021</text>
<rect x="243" y="930" width="1" height="4"/>
<text transform="translate(242.50,943.00) scale(0.9,1)" font-family='"Liberation Sans", sans-serif' font-size="10" fill="#000">6 Jul 2021</text>
<rect x="307" y="930" width="1" height="4"/>
<text transform="translate(306.50,943.00) scale(0.9,1)" font-family='"Liberation Sans", sans-serif' font-size="10" fill="#000">15 Jul 2021</text>
<rect x="371" y="930" width="1" height="4"/>
<text transform="translate(370.50,943.00) scale(0.9,1)" font-family='"Liberation Sans", sans-serif' font-size="10" fill="#000">25 Jul 2021</text>
<rect x="435" y="930" width="1" height="4"/>
<text transform="translate(434.50,943.00) scale(0.9,1)" font-family='"Liberation Sans", sans-serif' font-size="10" fill="#000">3 Aug 2021</text>
<rect x="499" y="930" width="1" height="4"/>
<text transform="translate(498.50,943.00) scale(0.9,1)" font-family='"Liberation Sans", sans-serif' font-size="10" fill="#000">12 Aug 2021</text>
<rect x="563" y="930" width="1" height="4"/>
<text transform="translate(562.50,943.00) scale(0.9,1)" font-family='"Liberation Sans", sans-serif' font-size="10" fill="#000">22 Aug 2021</text>
<rect x="627" y="930" width="1" height="4"/>
<text transform="translate(626.50,943.00) scale(0.9,1)" font-family='"Liberation Sans", sans-serif' font-size="10" fill="#000">31 Aug 2021</text>
<rect x="691" y="930" width="1" height="4"/>
<text transform="translate(690.50,943.00) scale(0.9,1)" font-family='"Liberation Sans", sans-serif' font-size="10" fill="#000">9 Sep 2021</text>
<rect x="755" y="930" width="1" height="4"/>
<text transform="translate(754.50,943.00) scale(0.9,1)" font-family='"Liberation Sans", sans-serif' font-size="10" fill="#000">19 Sep 2021</text>
<rect x="819" y="930" width="1" height="4"/>
<text transform="translate(818.50,943.00) scale(0.9,1)" font-family='"Liberation Sans", sans-serif' font-size="10" fill="#000">28 Sep 2021</text>
<rect x="883" y="930" width="1" height="4"/>
<text transform="translate(882.50,943.00) scale(0.9,1)" font-family='"Liberation Sans", sans-serif' font-size="10" fill="#000">7 Oct 2021</text>
<rect x="947" y="930" width="1" height="4"/>
<text transform="translate(946.50,943.00) scale(0.9,1)" font-family='"Liberation Sans", sans-serif' font-size="10" fill="#000">17 Oct 2021</text>
<rect x="1011" y="930" width="1" height="4"/>
<text transform="translate(1010.50,943.00) scale(0.9,1)" font-family='"Liberation Sans", sans-serif' font-size="10" fill="#000">26 Oct 2021</text>
<rect x="1075" y="930" width="1" height="4"/>
<text transform="translate(1074.50,943.00) scale(0.9,1)" font-family='"Liberation Sans", sans-serif' font-size="10" fill="#000">4 Nov 2021</text>
<rect x="1139" y="930" width="1" height="4"/>
<text transform="translate(1138.50,943.00) scale(0.9,1)" font-family='"Liberation Sans", sans-serif' font-size="10" fill="#000">14 Nov 2021</text>
<rect x="1203" y="930" width="1" height="4"/>
<text transform="translate(1202.50,943.00) scale(0.9,1)" font-family='"Liberation Sans", sans-serif' font-size="10" fill="#000">23 Nov 2021</text>
<rect x="1267" y="930" width="1" height="4"/>
<text transform="translate(1266.50,943.00) scale(0.9,1)" font-family='"Liberation Sans", sans-serif' font-size="10" fill="#000">2 Dec 2021</text>
<rect x="1331" y="930" width="1" height="4"/>
<text transform="translate(1330.50,943.00) scale(0.9,1)" font-family='"Liberation Sans", sans-serif' font-size="10" fill="#000">12 Dec 2021</text>
<rect x="1395" y="930" width="1" height="4"/>
<text transform="translate(1394.50,943.00) scale(0.9,1)" font-family='"Liberation Sans", sans-serif' font-size="10" fill="#000">21 Dec 2021</text>
<rect x="1459" y="930" width="1" height="4"/>
<text transform="translate(1458.50,943.00) scale(0.9,1)" font-family='"Liberation Sans", sans-serif' font-size="10" fill="#000">30 Dec 2021</text>
</g>
<g shape-rendering="crispEdges" fill="#000">
<rect x="0" y="29" width="1647" height="1"/>
<rect x="1646" y="29" width="1" height="554"/>
<rect x="0" y="582" width="1647" height="1"/>
<rect x="0" y="584" width="1647" height="1"/>
<rect x="1646" y="584" width="1" height="171"/>
<rect x="0" y="754" width="1647" height="1"/>
<rect x="0" y="756" width="1647" height="1"/>
<rect x="1646" y="756" width="1" height="175"/>
<rect x="0" y="930" width="1647" height="1"/>
</g>
<rect x="1691" y="27" width="2" height="922" fill="#f0f0f0"/>
<polygon points="1474,30 1483,30 1478.5,35" fill="#c0c0c0"/>
<text transform="translate(2.00,41.30) scale(0.933,1)" font-family='"Liberation Sans", sans-serif' font-size="10" fill="#000">GBPUSD-,Daily&#160; 1.34959 1.35491 1.34644 1.35320</text>
<defs>
<linearGradient id="gBtn" x1="0" y1="0" x2="0" y2="1"><stop offset="0" stop-color="#5a5aff"/><stop offset="1" stop-color="#2a2ad8"/></linearGradient>
<linearGradient id="gPx" x1="0" y1="0" x2="0" y2="1"><stop offset="0" stop-color="#3a3ae0"/><stop offset="1" stop-color="#0000a8"/></linearGradient>
<linearGradient id="gSpin" x1="0" y1="0" x2="0" y2="1"><stop offset="0" stop-color="#f4f4f4"/><stop offset="1" stop-color="#cfcfcf"/></linearGradient>
</defs>
<rect x="0" y="49" width="210" height="59" fill="#fff"/>
<rect x="0" y="49" width="42" height="24" fill="url(#gBtn)"/>
<path d="M0,49.5 H41.5 V73" fill="none" stroke="#0a0ac0" stroke-width="1"/>
<rect x="157" y="49" width="52" height="24" fill="url(#gBtn)"/>
<path d="M157.5,73 V49.5 H208.5 V73" fill="none" stroke="#0a0ac0" stroke-width="1"/>
<rect x="0" y="73" width="99" height="33" fill="url(#gPx)"/>
<rect x="101" y="73" width="108" height="33" fill="url(#gPx)"/>
<rect x="0" y="72" width="38" height="1" fill="#1a1aa8"/><rect x="0" y="73" width="38" height="1" fill="#7a7aff"/>
<rect x="161" y="72" width="45" height="1" fill="#1a1aa8"/><rect x="161" y="73" width="45" height="1" fill="#7a7aff"/>
<rect x="41" y="49" width="116" height="24" fill="#fff"/>
<rect x="44.5" y="49.5" width="110" height="21" fill="#fff" stroke="#a8a8a8"/>
<rect x="45" y="50" width="20" height="20" fill="url(#gSpin)" stroke="#b8b8b8" stroke-width="0.8"/>
<rect x="134" y="50" width="20" height="20" fill="url(#gSpin)" stroke="#b8b8b8" stroke-width="0.8"/>
<polygon points="52,58 58,58 55,61" fill="#5060a0"/>
<polygon points="141,61 147,61 144,58" fill="#5060a0"/>
<text x="130" y="64" text-anchor="end" font-family='"Liberation Sans", sans-serif' font-size="12.5" fill="#000">1.00</text>
<text x="2.7" y="65" font-family='"Liberation Sans", sans-serif' font-size="12.5" fill="#fff" textLength="25.3" lengthAdjust="spacingAndGlyphs">SELL</text>
<text x="171" y="65" font-family='"Liberation Sans", sans-serif' font-size="12.5" fill="#fff" textLength="23" lengthAdjust="spacingAndGlyphs">BUY</text>
<g font-family='"Liberation Sans", sans-serif' fill="#fff">
<text x="10" y="101" font-size="12" font-weight="bold">1.35</text>
<text x="39" y="101" font-size="33" textLength="32.2" lengthAdjust="spacingAndGlyphs">32</text>
<text x="76.5" y="84.7" font-size="12" font-weight="bold">0</text>
<text x="120" y="101" font-size="12" font-weight="bold">1.35</text>
<text x="149" y="101" font-size="33" textLength="34" lengthAdjust="spacingAndGlyphs">34</text>
<text x="188" y="84.7" font-size="12" font-weight="bold">3</text>
</g>
</svg></body></html>
